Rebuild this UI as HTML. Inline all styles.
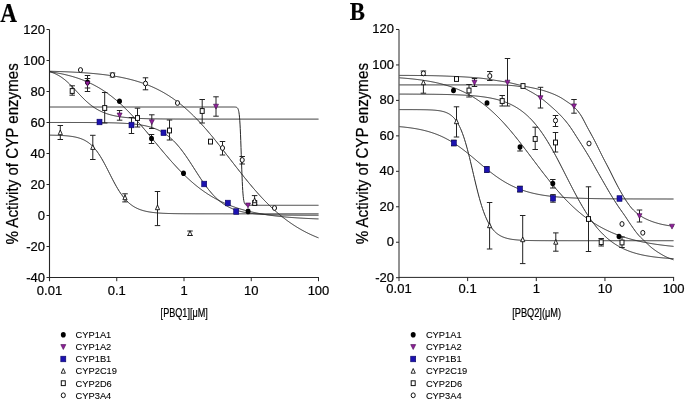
<!DOCTYPE html>
<html><head><meta charset="utf-8"><style>
html,body{margin:0;padding:0;background:#fff;}
body{width:685px;height:401px;overflow:hidden;}
svg{display:block;will-change:transform;}
text{font-family:"Liberation Sans",sans-serif;fill:#000;stroke:#000;stroke-width:0.22px;}
</style></head><body>
<svg width="685" height="401" viewBox="0 0 685 401">

<text transform="translate(0.3,21.7) scale(0.86,1)" style="font-family:'Liberation Serif',serif;font-weight:bold;font-size:27px;fill:#000">A</text>
<text transform="translate(349.8,19.6) scale(0.9,1)" style="font-family:'Liberation Serif',serif;font-weight:bold;font-size:25.3px;fill:#000">B</text>
<line x1="49.5" y1="29.5" x2="49.5" y2="281.2" stroke="#262626" stroke-width="1.1"/>
<line x1="49.5" y1="277.5" x2="319.0" y2="277.5" stroke="#262626" stroke-width="1"/>
<line x1="46.5" y1="29.5" x2="49.5" y2="29.5" stroke="#262626" stroke-width="1"/>
<text x="45.0" y="33.50" text-anchor="end" font-size="13">120</text>
<line x1="46.5" y1="60.5" x2="49.5" y2="60.5" stroke="#262626" stroke-width="1"/>
<text x="45.0" y="64.50" text-anchor="end" font-size="13">100</text>
<line x1="46.5" y1="91.5" x2="49.5" y2="91.5" stroke="#262626" stroke-width="1"/>
<text x="45.0" y="95.50" text-anchor="end" font-size="13">80</text>
<line x1="46.5" y1="122.5" x2="49.5" y2="122.5" stroke="#262626" stroke-width="1"/>
<text x="45.0" y="126.50" text-anchor="end" font-size="13">60</text>
<line x1="46.5" y1="153.5" x2="49.5" y2="153.5" stroke="#262626" stroke-width="1"/>
<text x="45.0" y="157.50" text-anchor="end" font-size="13">40</text>
<line x1="46.5" y1="184.5" x2="49.5" y2="184.5" stroke="#262626" stroke-width="1"/>
<text x="45.0" y="188.50" text-anchor="end" font-size="13">20</text>
<line x1="46.5" y1="215.5" x2="49.5" y2="215.5" stroke="#262626" stroke-width="1"/>
<text x="45.0" y="219.50" text-anchor="end" font-size="13">0</text>
<line x1="46.5" y1="246.5" x2="49.5" y2="246.5" stroke="#262626" stroke-width="1"/>
<text x="45.0" y="250.50" text-anchor="end" font-size="13">-20</text>
<line x1="46.5" y1="277.5" x2="49.5" y2="277.5" stroke="#262626" stroke-width="1"/>
<text x="45.0" y="281.50" text-anchor="end" font-size="13">-40</text>
<text x="49.50" y="294.7" text-anchor="middle" font-size="13">0.01</text>
<line x1="116.75" y1="277.5" x2="116.75" y2="281.2" stroke="#262626" stroke-width="1"/>
<text x="116.75" y="294.7" text-anchor="middle" font-size="13">0.1</text>
<line x1="184.00" y1="277.5" x2="184.00" y2="281.2" stroke="#262626" stroke-width="1"/>
<text x="184.00" y="294.7" text-anchor="middle" font-size="13">1</text>
<line x1="251.25" y1="277.5" x2="251.25" y2="281.2" stroke="#262626" stroke-width="1"/>
<text x="251.25" y="294.7" text-anchor="middle" font-size="13">10</text>
<line x1="318.50" y1="277.5" x2="318.50" y2="281.2" stroke="#262626" stroke-width="1"/>
<text x="318.50" y="294.7" text-anchor="middle" font-size="13">100</text>
<line x1="399" y1="29.5" x2="399" y2="281.09999999999997" stroke="#262626" stroke-width="1"/>
<line x1="399" y1="277.4" x2="674.1" y2="277.4" stroke="#262626" stroke-width="1"/>
<line x1="396" y1="29.47999999999999" x2="399" y2="29.47999999999999" stroke="#262626" stroke-width="1"/>
<text x="394.0" y="33.48" text-anchor="end" font-size="13">120</text>
<line x1="396" y1="64.94" x2="399" y2="64.94" stroke="#262626" stroke-width="1"/>
<text x="394.0" y="68.94" text-anchor="end" font-size="13">100</text>
<line x1="396" y1="100.4" x2="399" y2="100.4" stroke="#262626" stroke-width="1"/>
<text x="394.0" y="104.40" text-anchor="end" font-size="13">80</text>
<line x1="396" y1="135.85999999999999" x2="399" y2="135.85999999999999" stroke="#262626" stroke-width="1"/>
<text x="394.0" y="139.86" text-anchor="end" font-size="13">60</text>
<line x1="396" y1="171.32" x2="399" y2="171.32" stroke="#262626" stroke-width="1"/>
<text x="394.0" y="175.32" text-anchor="end" font-size="13">40</text>
<line x1="396" y1="206.77999999999997" x2="399" y2="206.77999999999997" stroke="#262626" stroke-width="1"/>
<text x="394.0" y="210.78" text-anchor="end" font-size="13">20</text>
<line x1="396" y1="242.23999999999998" x2="399" y2="242.23999999999998" stroke="#262626" stroke-width="1"/>
<text x="394.0" y="246.24" text-anchor="end" font-size="13">0</text>
<line x1="396" y1="277.7" x2="399" y2="277.7" stroke="#262626" stroke-width="1"/>
<text x="394.0" y="281.70" text-anchor="end" font-size="13">-20</text>
<text x="399.00" y="293.3" text-anchor="middle" font-size="13">0.01</text>
<line x1="467.65" y1="277.4" x2="467.65" y2="281.09999999999997" stroke="#262626" stroke-width="1"/>
<text x="467.65" y="293.3" text-anchor="middle" font-size="13">0.1</text>
<line x1="536.30" y1="277.4" x2="536.30" y2="281.09999999999997" stroke="#262626" stroke-width="1"/>
<text x="536.30" y="293.3" text-anchor="middle" font-size="13">1</text>
<line x1="604.95" y1="277.4" x2="604.95" y2="281.09999999999997" stroke="#262626" stroke-width="1"/>
<text x="604.95" y="293.3" text-anchor="middle" font-size="13">10</text>
<line x1="673.60" y1="277.4" x2="673.60" y2="281.09999999999997" stroke="#262626" stroke-width="1"/>
<text x="673.60" y="293.3" text-anchor="middle" font-size="13">100</text>
<text transform="translate(18.3,244.5) rotate(-90) scale(0.964,1)" font-size="15.7">% Activity of CYP enzymes</text>
<text transform="translate(367.9,244.3) rotate(-90) scale(0.964,1)" font-size="15.7">% Activity of CYP enzymes</text>
<text transform="translate(160.6,316.6) scale(0.76,1)" font-size="12">[PBQ1][μM]</text>
<text transform="translate(512.2,316.5) scale(0.77,1)" font-size="12">[PBQ2](μM)</text>
<path d="M49.50,71.25 L50.50,71.28 L51.50,71.30 L52.50,71.33 L53.50,71.36 L54.50,71.39 L55.50,71.42 L56.50,71.45 L57.50,71.48 L58.50,71.51 L59.50,71.55 L60.50,71.58 L61.50,71.62 L62.50,71.65 L63.50,71.69 L64.50,71.73 L65.50,71.77 L66.50,71.81 L67.50,71.85 L68.50,71.90 L69.50,71.94 L70.50,71.99 L71.50,72.04 L72.50,72.09 L73.50,72.14 L74.50,72.19 L75.50,72.24 L76.50,72.30 L77.50,72.36 L78.50,72.41 L79.50,72.47 L80.50,72.54 L81.50,72.60 L82.50,72.67 L83.50,72.73 L84.50,72.80 L85.50,72.88 L86.50,72.95 L87.50,73.03 L88.50,73.10 L89.50,73.18 L90.50,73.27 L91.50,73.35 L92.50,73.44 L93.50,73.53 L94.50,73.62 L95.50,73.72 L96.50,73.82 L97.50,73.92 L98.50,74.02 L99.50,74.13 L100.50,74.24 L101.50,74.35 L102.50,74.47 L103.50,74.59 L104.50,74.71 L105.50,74.84 L106.50,74.97 L107.50,75.10 L108.50,75.24 L109.50,75.38 L110.50,75.53 L111.50,75.68 L112.50,75.83 L113.50,75.99 L114.50,76.15 L115.50,76.32 L116.50,76.49 L117.50,76.67 L118.50,76.85 L119.50,77.04 L120.50,77.23 L121.50,77.42 L122.50,77.63 L123.50,77.83 L124.50,78.05 L125.50,78.27 L126.50,78.49 L127.50,78.73 L128.50,78.96 L129.50,79.21 L130.50,79.46 L131.50,79.72 L132.50,79.98 L133.50,80.25 L134.50,80.53 L135.50,80.82 L136.50,81.11 L137.50,81.41 L138.50,81.72 L139.50,82.04 L140.50,82.36 L141.50,82.70 L142.50,83.04 L143.50,83.39 L144.50,83.75 L145.50,84.12 L146.50,84.50 L147.50,84.89 L148.50,85.29 L149.50,85.69 L150.50,86.11 L151.50,86.54 L152.50,86.98 L153.50,87.42 L154.50,87.88 L155.50,88.35 L156.50,88.84 L157.50,89.33 L158.50,89.83 L159.50,90.35 L160.50,90.88 L161.50,91.42 L162.50,91.97 L163.50,92.53 L164.50,93.11 L165.50,93.70 L166.50,94.30 L167.50,94.92 L168.50,95.54 L169.50,96.19 L170.50,96.84 L171.50,97.51 L172.50,98.19 L173.50,98.89 L174.50,99.60 L175.50,100.32 L176.50,101.06 L177.50,101.81 L178.50,102.58 L179.50,103.36 L180.50,104.15 L181.50,104.96 L182.50,105.79 L183.50,106.63 L184.50,107.48 L185.50,108.35 L186.50,109.23 L187.50,110.12 L188.50,111.04 L189.50,111.96 L190.50,112.90 L191.50,113.85 L192.50,114.82 L193.50,115.80 L194.50,116.80 L195.50,117.81 L196.50,118.83 L197.50,119.87 L198.50,120.92 L199.50,121.98 L200.50,123.06 L201.50,124.15 L202.50,125.25 L203.50,126.36 L204.50,127.49 L205.50,128.62 L206.50,129.77 L207.50,130.93 L208.50,132.10 L209.50,133.28 L210.50,134.47 L211.50,135.67 L212.50,136.88 L213.50,138.09 L214.50,139.32 L215.50,140.55 L216.50,141.79 L217.50,143.04 L218.50,144.29 L219.50,145.55 L220.50,146.82 L221.50,148.09 L222.50,149.36 L223.50,150.64 L224.50,151.92 L225.50,153.21 L226.50,154.49 L227.50,155.78 L228.50,157.07 L229.50,158.37 L230.50,159.66 L231.50,160.95 L232.50,162.24 L233.50,163.53 L234.50,164.82 L235.50,166.11 L236.50,167.39 L237.50,168.67 L238.50,169.95 L239.50,171.22 L240.50,172.49 L241.50,173.76 L242.50,175.01 L243.50,176.27 L244.50,177.51 L245.50,178.75 L246.50,179.98 L247.50,181.20 L248.50,182.42 L249.50,183.63 L250.50,184.82 L251.50,186.01 L252.50,187.19 L253.50,188.36 L254.50,189.52 L255.50,190.67 L256.50,191.81 L257.50,192.93 L258.50,194.05 L259.50,195.15 L260.50,196.24 L261.50,197.32 L262.50,198.39 L263.50,199.45 L264.50,200.49 L265.50,201.52 L266.50,202.54 L267.50,203.54 L268.50,204.53 L269.50,205.51 L270.50,206.48 L271.50,207.43 L272.50,208.36 L273.50,209.29 L274.50,210.20 L275.50,211.10 L276.50,211.98 L277.50,212.85 L278.50,213.71 L279.50,214.55 L280.50,215.38 L281.50,216.20 L282.50,217.00 L283.50,217.79 L284.50,218.57 L285.50,219.33 L286.50,220.08 L287.50,220.82 L288.50,221.54 L289.50,222.25 L290.50,222.95 L291.50,223.64 L292.50,224.31 L293.50,224.97 L294.50,225.62 L295.50,226.26 L296.50,226.88 L297.50,227.49 L298.50,228.09 L299.50,228.68 L300.50,229.26 L301.50,229.82 L302.50,230.38 L303.50,230.92 L304.50,231.45 L305.50,231.98 L306.50,232.49 L307.50,232.99 L308.50,233.48 L309.50,233.96 L310.50,234.43 L311.50,234.89 L312.50,235.34 L313.50,235.78 L314.50,236.21 L315.50,236.63 L316.50,237.05 L317.50,237.45 L318.50,237.85" fill="none" stroke="#262626" stroke-width="1"/>
<path d="M49.50,71.70 L50.50,71.85 L51.50,72.00 L52.50,72.16 L53.50,72.32 L54.50,72.49 L55.50,72.66 L56.50,72.84 L57.50,73.02 L58.50,73.21 L59.50,73.40 L60.50,73.60 L61.50,73.81 L62.50,74.02 L63.50,74.24 L64.50,74.46 L65.50,74.70 L66.50,74.94 L67.50,75.18 L68.50,75.44 L69.50,75.70 L70.50,75.97 L71.50,76.25 L72.50,76.53 L73.50,76.83 L74.50,77.13 L75.50,77.44 L76.50,77.76 L77.50,78.09 L78.50,78.43 L79.50,78.78 L80.50,79.14 L81.50,79.51 L82.50,79.89 L83.50,80.28 L84.50,80.68 L85.50,81.09 L86.50,81.52 L87.50,81.95 L88.50,82.40 L89.50,82.85 L90.50,83.32 L91.50,83.81 L92.50,84.30 L93.50,84.81 L94.50,85.33 L95.50,85.86 L96.50,86.41 L97.50,86.97 L98.50,87.55 L99.50,88.13 L100.50,88.74 L101.50,89.35 L102.50,89.98 L103.50,90.63 L104.50,91.29 L105.50,91.96 L106.50,92.65 L107.50,93.35 L108.50,94.07 L109.50,94.81 L110.50,95.56 L111.50,96.32 L112.50,97.10 L113.50,97.90 L114.50,98.71 L115.50,99.54 L116.50,100.38 L117.50,101.23 L118.50,102.11 L119.50,102.99 L120.50,103.89 L121.50,104.81 L122.50,105.74 L123.50,106.69 L124.50,107.65 L125.50,108.62 L126.50,109.61 L127.50,110.61 L128.50,111.63 L129.50,112.66 L130.50,113.70 L131.50,114.75 L132.50,115.82 L133.50,116.90 L134.50,117.99 L135.50,119.09 L136.50,120.20 L137.50,121.32 L138.50,122.45 L139.50,123.59 L140.50,124.74 L141.50,125.90 L142.50,127.06 L143.50,128.23 L144.50,129.41 L145.50,130.60 L146.50,131.78 L147.50,132.98 L148.50,134.18 L149.50,135.38 L150.50,136.58 L151.50,137.79 L152.50,139.00 L153.50,140.21 L154.50,141.42 L155.50,142.63 L156.50,143.84 L157.50,145.05 L158.50,146.25 L159.50,147.46 L160.50,148.66 L161.50,149.85 L162.50,151.05 L163.50,152.23 L164.50,153.42 L165.50,154.59 L166.50,155.76 L167.50,156.92 L168.50,158.08 L169.50,159.22 L170.50,160.36 L171.50,161.49 L172.50,162.61 L173.50,163.72 L174.50,164.82 L175.50,165.91 L176.50,166.99 L177.50,168.05 L178.50,169.11 L179.50,170.15 L180.50,171.18 L181.50,172.20 L182.50,173.21 L183.50,174.20 L184.50,175.18 L185.50,176.15 L186.50,177.10 L187.50,178.04 L188.50,178.96 L189.50,179.87 L190.50,180.77 L191.50,181.65 L192.50,182.52 L193.50,183.38 L194.50,184.22 L195.50,185.05 L196.50,185.86 L197.50,186.65 L198.50,187.44 L199.50,188.21 L200.50,188.96 L201.50,189.70 L202.50,190.43 L203.50,191.14 L204.50,191.84 L205.50,192.53 L206.50,193.20 L207.50,193.86 L208.50,194.50 L209.50,195.14 L210.50,195.75 L211.50,196.36 L212.50,196.95 L213.50,197.53 L214.50,198.10 L215.50,198.66 L216.50,199.20 L217.50,199.73 L218.50,200.25 L219.50,200.76 L220.50,201.25 L221.50,201.74 L222.50,202.21 L223.50,202.67 L224.50,203.12 L225.50,203.57 L226.50,204.00 L227.50,204.42 L228.50,204.83 L229.50,205.23 L230.50,205.62 L231.50,206.00 L232.50,206.38 L233.50,206.74 L234.50,207.09 L235.50,207.44 L236.50,207.78 L237.50,208.11 L238.50,208.43 L239.50,208.74 L240.50,209.04 L241.50,209.34 L242.50,209.63 L243.50,209.91 L244.50,210.19 L245.50,210.46 L246.50,210.72 L247.50,210.97 L248.50,211.22 L249.50,211.46 L250.50,211.70 L251.50,211.93 L252.50,212.15 L253.50,212.37 L254.50,212.58 L255.50,212.79 L256.50,212.99 L257.50,213.18 L258.50,213.37 L259.50,213.56 L260.50,213.74 L261.50,213.92 L262.50,214.09 L263.50,214.25 L264.50,214.42 L265.50,214.57 L266.50,214.73 L267.50,214.88 L268.50,215.02 L269.50,215.17 L270.50,215.30 L271.50,215.44 L272.50,215.57 L273.50,215.70 L274.50,215.82 L275.50,215.94 L276.50,216.06 L277.50,216.17 L278.50,216.28 L279.50,216.39 L280.50,216.49 L281.50,216.60 L282.50,216.69 L283.50,216.79 L284.50,216.89 L285.50,216.98 L286.50,217.07 L287.50,217.15 L288.50,217.24 L289.50,217.32 L290.50,217.40 L291.50,217.47 L292.50,217.55 L293.50,217.62 L294.50,217.69 L295.50,217.76 L296.50,217.83 L297.50,217.90 L298.50,217.96 L299.50,218.02 L300.50,218.08 L301.50,218.14 L302.50,218.20 L303.50,218.25 L304.50,218.31 L305.50,218.36 L306.50,218.41 L307.50,218.46 L308.50,218.51 L309.50,218.56 L310.50,218.60 L311.50,218.64 L312.50,218.69 L313.50,218.73 L314.50,218.77 L315.50,218.81 L316.50,218.85 L317.50,218.89 L318.50,218.92" fill="none" stroke="#262626" stroke-width="1"/>
<path d="M49.50,71.64 L50.50,71.94 L51.50,72.27 L52.50,72.63 L53.50,73.01 L54.50,73.42 L55.50,73.87 L56.50,74.35 L57.50,74.86 L58.50,75.42 L59.50,76.00 L60.50,76.63 L61.50,77.30 L62.50,78.00 L63.50,78.75 L64.50,79.53 L65.50,80.35 L66.50,81.21 L67.50,82.10 L68.50,83.02 L69.50,83.98 L70.50,84.97 L71.50,85.97 L72.50,87.00 L73.50,88.05 L74.50,89.11 L75.50,90.18 L76.50,91.26 L77.50,92.33 L78.50,93.40 L79.50,94.47 L80.50,95.52 L81.50,96.56 L82.50,97.58 L83.50,98.59 L84.50,99.56 L85.50,100.52 L86.50,101.44 L87.50,102.34 L88.50,103.20 L89.50,104.04 L90.50,104.84 L91.50,105.61 L92.50,106.35 L93.50,107.05 L94.50,107.73 L95.50,108.37 L96.50,108.98 L97.50,109.56 L98.50,110.12 L99.50,110.64 L100.50,111.14 L101.50,111.61 L102.50,112.05 L103.50,112.47 L104.50,112.87 L105.50,113.24 L106.50,113.60 L107.50,113.93 L108.50,114.24 L109.50,114.54 L110.50,114.82 L111.50,115.08 L112.50,115.33 L113.50,115.56 L114.50,115.78 L115.50,115.98 L116.50,116.17 L117.50,116.35 L118.50,116.52 L119.50,116.68 L120.50,116.83 L121.50,116.97 L122.50,117.11 L123.50,117.23 L124.50,117.35 L125.50,117.46 L126.50,117.56 L127.50,117.66 L128.50,117.75 L129.50,117.83 L130.50,117.91 L131.50,117.99 L132.50,118.06 L133.50,118.12 L134.50,118.18 L135.50,118.24 L136.50,118.30 L137.50,118.35 L138.50,118.39 L139.50,118.44 L140.50,118.48 L141.50,118.52 L142.50,118.56 L143.50,118.59 L144.50,118.62 L145.50,118.65 L146.50,118.68 L147.50,118.71 L148.50,118.73 L149.50,118.76 L150.50,118.78 L151.50,118.80 L152.50,118.82 L153.50,118.84 L154.50,118.86 L155.50,118.87 L156.50,118.89 L157.50,118.90 L158.50,118.91 L159.50,118.93 L160.50,118.94 L161.50,118.95 L162.50,118.96 L163.50,118.97 L164.50,118.98 L165.50,118.99 L166.50,118.99 L167.50,119.00 L168.50,119.01 L169.50,119.02 L170.50,119.02 L171.50,119.03 L172.50,119.03 L173.50,119.04 L174.50,119.04 L175.50,119.05 L176.50,119.05 L177.50,119.05 L178.50,119.06 L179.50,119.06 L180.50,119.07 L181.50,119.07 L182.50,119.07 L183.50,119.07 L184.50,119.08 L185.50,119.08 L186.50,119.08 L187.50,119.08 L188.50,119.08 L189.50,119.09 L190.50,119.09 L191.50,119.09 L192.50,119.09 L193.50,119.09 L194.50,119.09 L195.50,119.10 L196.50,119.10 L197.50,119.10 L198.50,119.10 L199.50,119.10 L200.50,119.10 L201.50,119.10 L202.50,119.10 L203.50,119.10 L204.50,119.10 L205.50,119.10 L206.50,119.10 L207.50,119.10 L208.50,119.11 L209.50,119.11 L210.50,119.11 L211.50,119.11 L212.50,119.11 L213.50,119.11 L214.50,119.11 L215.50,119.11 L216.50,119.11 L217.50,119.11 L218.50,119.11 L219.50,119.11 L220.50,119.11 L221.50,119.11 L222.50,119.11 L223.50,119.11 L224.50,119.11 L225.50,119.11 L226.50,119.11 L227.50,119.11 L228.50,119.11 L229.50,119.11 L230.50,119.11 L231.50,119.11 L232.50,119.11 L233.50,119.11 L234.50,119.11 L235.50,119.11 L236.50,119.11 L237.50,119.11 L238.50,119.11 L239.50,119.11 L240.50,119.11 L241.50,119.11 L242.50,119.11 L243.50,119.11 L244.50,119.11 L245.50,119.11 L246.50,119.11 L247.50,119.11 L248.50,119.11 L249.50,119.11 L250.50,119.11 L251.50,119.11 L252.50,119.11 L253.50,119.11 L254.50,119.11 L255.50,119.11 L256.50,119.11 L257.50,119.11 L258.50,119.11 L259.50,119.11 L260.50,119.11 L261.50,119.11 L262.50,119.11 L263.50,119.11 L264.50,119.11 L265.50,119.11 L266.50,119.11 L267.50,119.11 L268.50,119.11 L269.50,119.11 L270.50,119.11 L271.50,119.11 L272.50,119.11 L273.50,119.11 L274.50,119.11 L275.50,119.11 L276.50,119.11 L277.50,119.11 L278.50,119.11 L279.50,119.11 L280.50,119.11 L281.50,119.11 L282.50,119.11 L283.50,119.11 L284.50,119.11 L285.50,119.11 L286.50,119.11 L287.50,119.11 L288.50,119.11 L289.50,119.11 L290.50,119.11 L291.50,119.11 L292.50,119.11 L293.50,119.11 L294.50,119.11 L295.50,119.11 L296.50,119.11 L297.50,119.11 L298.50,119.11 L299.50,119.11 L300.50,119.11 L301.50,119.11 L302.50,119.11 L303.50,119.11 L304.50,119.11 L305.50,119.11 L306.50,119.11 L307.50,119.11 L308.50,119.11 L309.50,119.11 L310.50,119.11 L311.50,119.11 L312.50,119.11 L313.50,119.11 L314.50,119.11 L315.50,119.11 L316.50,119.11 L317.50,119.11 L318.50,119.11" fill="none" stroke="#262626" stroke-width="1"/>
<path d="M49.50,122.47 L50.50,122.47 L51.50,122.47 L52.50,122.47 L53.50,122.47 L54.50,122.47 L55.50,122.47 L56.50,122.47 L57.50,122.47 L58.50,122.47 L59.50,122.47 L60.50,122.47 L61.50,122.47 L62.50,122.47 L63.50,122.48 L64.50,122.48 L65.50,122.48 L66.50,122.48 L67.50,122.48 L68.50,122.48 L69.50,122.48 L70.50,122.48 L71.50,122.49 L72.50,122.49 L73.50,122.49 L74.50,122.49 L75.50,122.49 L76.50,122.50 L77.50,122.50 L78.50,122.50 L79.50,122.50 L80.50,122.51 L81.50,122.51 L82.50,122.51 L83.50,122.52 L84.50,122.52 L85.50,122.52 L86.50,122.53 L87.50,122.53 L88.50,122.54 L89.50,122.54 L90.50,122.55 L91.50,122.56 L92.50,122.56 L93.50,122.57 L94.50,122.58 L95.50,122.59 L96.50,122.59 L97.50,122.60 L98.50,122.61 L99.50,122.62 L100.50,122.63 L101.50,122.65 L102.50,122.66 L103.50,122.67 L104.50,122.69 L105.50,122.70 L106.50,122.72 L107.50,122.74 L108.50,122.76 L109.50,122.78 L110.50,122.80 L111.50,122.82 L112.50,122.85 L113.50,122.87 L114.50,122.90 L115.50,122.93 L116.50,122.96 L117.50,123.00 L118.50,123.04 L119.50,123.08 L120.50,123.12 L121.50,123.16 L122.50,123.21 L123.50,123.26 L124.50,123.32 L125.50,123.37 L126.50,123.44 L127.50,123.50 L128.50,123.58 L129.50,123.65 L130.50,123.73 L131.50,123.82 L132.50,123.91 L133.50,124.01 L134.50,124.11 L135.50,124.23 L136.50,124.35 L137.50,124.47 L138.50,124.61 L139.50,124.75 L140.50,124.91 L141.50,125.07 L142.50,125.25 L143.50,125.43 L144.50,125.63 L145.50,125.84 L146.50,126.07 L147.50,126.31 L148.50,126.56 L149.50,126.83 L150.50,127.12 L151.50,127.42 L152.50,127.75 L153.50,128.09 L154.50,128.46 L155.50,128.84 L156.50,129.25 L157.50,129.68 L158.50,130.14 L159.50,130.63 L160.50,131.14 L161.50,131.68 L162.50,132.25 L163.50,132.85 L164.50,133.49 L165.50,134.15 L166.50,134.85 L167.50,135.59 L168.50,136.36 L169.50,137.17 L170.50,138.02 L171.50,138.91 L172.50,139.83 L173.50,140.80 L174.50,141.80 L175.50,142.85 L176.50,143.94 L177.50,145.06 L178.50,146.23 L179.50,147.43 L180.50,148.68 L181.50,149.96 L182.50,151.27 L183.50,152.63 L184.50,154.01 L185.50,155.42 L186.50,156.86 L187.50,158.33 L188.50,159.82 L189.50,161.33 L190.50,162.86 L191.50,164.40 L192.50,165.95 L193.50,167.51 L194.50,169.07 L195.50,170.64 L196.50,172.19 L197.50,173.75 L198.50,175.29 L199.50,176.82 L200.50,178.33 L201.50,179.82 L202.50,181.29 L203.50,182.73 L204.50,184.14 L205.50,185.53 L206.50,186.88 L207.50,188.19 L208.50,189.47 L209.50,190.72 L210.50,191.92 L211.50,193.08 L212.50,194.21 L213.50,195.29 L214.50,196.34 L215.50,197.34 L216.50,198.30 L217.50,199.22 L218.50,200.11 L219.50,200.95 L220.50,201.75 L221.50,202.52 L222.50,203.25 L223.50,203.94 L224.50,204.60 L225.50,205.23 L226.50,205.82 L227.50,206.39 L228.50,206.92 L229.50,207.42 L230.50,207.90 L231.50,208.35 L232.50,208.77 L233.50,209.17 L234.50,209.55 L235.50,209.91 L236.50,210.24 L237.50,210.56 L238.50,210.85 L239.50,211.13 L240.50,211.39 L241.50,211.64 L242.50,211.87 L243.50,212.08 L244.50,212.29 L245.50,212.48 L246.50,212.66 L247.50,212.83 L248.50,212.98 L249.50,213.13 L250.50,213.27 L251.50,213.40 L252.50,213.52 L253.50,213.63 L254.50,213.74 L255.50,213.84 L256.50,213.93 L257.50,214.02 L258.50,214.10 L259.50,214.17 L260.50,214.24 L261.50,214.31 L262.50,214.37 L263.50,214.43 L264.50,214.49 L265.50,214.54 L266.50,214.58 L267.50,214.63 L268.50,214.67 L269.50,214.71 L270.50,214.74 L271.50,214.78 L272.50,214.81 L273.50,214.84 L274.50,214.87 L275.50,214.89 L276.50,214.92 L277.50,214.94 L278.50,214.96 L279.50,214.98 L280.50,215.00 L281.50,215.02 L282.50,215.03 L283.50,215.05 L284.50,215.06 L285.50,215.07 L286.50,215.09 L287.50,215.10 L288.50,215.11 L289.50,215.12 L290.50,215.13 L291.50,215.14 L292.50,215.14 L293.50,215.15 L294.50,215.16 L295.50,215.16 L296.50,215.17 L297.50,215.18 L298.50,215.18 L299.50,215.19 L300.50,215.19 L301.50,215.20 L302.50,215.20 L303.50,215.20 L304.50,215.21 L305.50,215.21 L306.50,215.21 L307.50,215.22 L308.50,215.22 L309.50,215.22 L310.50,215.22 L311.50,215.23 L312.50,215.23 L313.50,215.23 L314.50,215.23 L315.50,215.23 L316.50,215.24 L317.50,215.24 L318.50,215.24" fill="none" stroke="#262626" stroke-width="1"/>
<path d="M49.50,135.13 L50.50,135.15 L51.50,135.17 L52.50,135.19 L53.50,135.21 L54.50,135.23 L55.50,135.26 L56.50,135.29 L57.50,135.32 L58.50,135.35 L59.50,135.39 L60.50,135.44 L61.50,135.48 L62.50,135.54 L63.50,135.60 L64.50,135.67 L65.50,135.74 L66.50,135.82 L67.50,135.91 L68.50,136.01 L69.50,136.13 L70.50,136.25 L71.50,136.39 L72.50,136.54 L73.50,136.71 L74.50,136.90 L75.50,137.10 L76.50,137.33 L77.50,137.58 L78.50,137.86 L79.50,138.17 L80.50,138.51 L81.50,138.88 L82.50,139.29 L83.50,139.73 L84.50,140.23 L85.50,140.77 L86.50,141.36 L87.50,142.00 L88.50,142.70 L89.50,143.46 L90.50,144.29 L91.50,145.19 L92.50,146.15 L93.50,147.19 L94.50,148.31 L95.50,149.51 L96.50,150.78 L97.50,152.13 L98.50,153.57 L99.50,155.08 L100.50,156.66 L101.50,158.32 L102.50,160.05 L103.50,161.83 L104.50,163.67 L105.50,165.56 L106.50,167.48 L107.50,169.43 L108.50,171.41 L109.50,173.39 L110.50,175.36 L111.50,177.33 L112.50,179.28 L113.50,181.19 L114.50,183.07 L115.50,184.89 L116.50,186.67 L117.50,188.38 L118.50,190.03 L119.50,191.62 L120.50,193.13 L121.50,194.56 L122.50,195.93 L123.50,197.22 L124.50,198.44 L125.50,199.58 L126.50,200.65 L127.50,201.66 L128.50,202.60 L129.50,203.47 L130.50,204.29 L131.50,205.04 L132.50,205.75 L133.50,206.40 L134.50,207.00 L135.50,207.55 L136.50,208.07 L137.50,208.54 L138.50,208.98 L139.50,209.38 L140.50,209.75 L141.50,210.09 L142.50,210.40 L143.50,210.69 L144.50,210.95 L145.50,211.19 L146.50,211.42 L147.50,211.62 L148.50,211.81 L149.50,211.98 L150.50,212.13 L151.50,212.28 L152.50,212.41 L153.50,212.53 L154.50,212.64 L155.50,212.74 L156.50,212.83 L157.50,212.92 L158.50,213.00 L159.50,213.07 L160.50,213.13 L161.50,213.19 L162.50,213.25 L163.50,213.30 L164.50,213.34 L165.50,213.38 L166.50,213.42 L167.50,213.46 L168.50,213.49 L169.50,213.52 L170.50,213.54 L171.50,213.57 L172.50,213.59 L173.50,213.61 L174.50,213.63 L175.50,213.65 L176.50,213.66 L177.50,213.68 L178.50,213.69 L179.50,213.70 L180.50,213.71 L181.50,213.72 L182.50,213.73 L183.50,213.74 L184.50,213.75 L185.50,213.75 L186.50,213.76 L187.50,213.77 L188.50,213.77 L189.50,213.78 L190.50,213.78 L191.50,213.78 L192.50,213.79 L193.50,213.79 L194.50,213.79 L195.50,213.80 L196.50,213.80 L197.50,213.80 L198.50,213.80 L199.50,213.81 L200.50,213.81 L201.50,213.81 L202.50,213.81 L203.50,213.81 L204.50,213.81 L205.50,213.82 L206.50,213.82 L207.50,213.82 L208.50,213.82 L209.50,213.82 L210.50,213.82 L211.50,213.82 L212.50,213.82 L213.50,213.82 L214.50,213.82 L215.50,213.82 L216.50,213.82 L217.50,213.82 L218.50,213.82 L219.50,213.82 L220.50,213.82 L221.50,213.82 L222.50,213.82 L223.50,213.83 L224.50,213.83 L225.50,213.83 L226.50,213.83 L227.50,213.83 L228.50,213.83 L229.50,213.83 L230.50,213.83 L231.50,213.83 L232.50,213.83 L233.50,213.83 L234.50,213.83 L235.50,213.83 L236.50,213.83 L237.50,213.83 L238.50,213.83 L239.50,213.83 L240.50,213.83 L241.50,213.83 L242.50,213.83 L243.50,213.83 L244.50,213.83 L245.50,213.83 L246.50,213.83 L247.50,213.83 L248.50,213.83 L249.50,213.83 L250.50,213.83 L251.50,213.83 L252.50,213.83 L253.50,213.83 L254.50,213.83 L255.50,213.83 L256.50,213.83 L257.50,213.83 L258.50,213.83 L259.50,213.83 L260.50,213.83 L261.50,213.83 L262.50,213.83 L263.50,213.83 L264.50,213.83 L265.50,213.83 L266.50,213.83 L267.50,213.83 L268.50,213.83 L269.50,213.83 L270.50,213.83 L271.50,213.83 L272.50,213.83 L273.50,213.83 L274.50,213.83 L275.50,213.83 L276.50,213.83 L277.50,213.83 L278.50,213.83 L279.50,213.83 L280.50,213.83 L281.50,213.83 L282.50,213.83 L283.50,213.83 L284.50,213.83 L285.50,213.83 L286.50,213.83 L287.50,213.83 L288.50,213.83 L289.50,213.83 L290.50,213.83 L291.50,213.83 L292.50,213.83 L293.50,213.83 L294.50,213.83 L295.50,213.83 L296.50,213.83 L297.50,213.83 L298.50,213.83 L299.50,213.83 L300.50,213.83 L301.50,213.83 L302.50,213.83 L303.50,213.83 L304.50,213.83 L305.50,213.83 L306.50,213.83 L307.50,213.83 L308.50,213.83 L309.50,213.83 L310.50,213.83 L311.50,213.83 L312.50,213.83 L313.50,213.83 L314.50,213.83 L315.50,213.83 L316.50,213.83 L317.50,213.83 L318.50,213.83" fill="none" stroke="#262626" stroke-width="1"/>
<path d="M49.50,107.00 L49.75,107.00 L50.00,107.00 L50.25,107.00 L50.50,107.00 L50.75,107.00 L51.00,107.00 L51.25,107.00 L51.50,107.00 L51.75,107.00 L52.00,107.00 L52.25,107.00 L52.50,107.00 L52.75,107.00 L53.00,107.00 L53.25,107.00 L53.50,107.00 L53.75,107.00 L54.00,107.00 L54.25,107.00 L54.50,107.00 L54.75,107.00 L55.00,107.00 L55.25,107.00 L55.50,107.00 L55.75,107.00 L56.00,107.00 L56.25,107.00 L56.50,107.00 L56.75,107.00 L57.00,107.00 L57.25,107.00 L57.50,107.00 L57.75,107.00 L58.00,107.00 L58.25,107.00 L58.50,107.00 L58.75,107.00 L59.00,107.00 L59.25,107.00 L59.50,107.00 L59.75,107.00 L60.00,107.00 L60.25,107.00 L60.50,107.00 L60.75,107.00 L61.00,107.00 L61.25,107.00 L61.50,107.00 L61.75,107.00 L62.00,107.00 L62.25,107.00 L62.50,107.00 L62.75,107.00 L63.00,107.00 L63.25,107.00 L63.50,107.00 L63.75,107.00 L64.00,107.00 L64.25,107.00 L64.50,107.00 L64.75,107.00 L65.00,107.00 L65.25,107.00 L65.50,107.00 L65.75,107.00 L66.00,107.00 L66.25,107.00 L66.50,107.00 L66.75,107.00 L67.00,107.00 L67.25,107.00 L67.50,107.00 L67.75,107.00 L68.00,107.00 L68.25,107.00 L68.50,107.00 L68.75,107.00 L69.00,107.00 L69.25,107.00 L69.50,107.00 L69.75,107.00 L70.00,107.00 L70.25,107.00 L70.50,107.00 L70.75,107.00 L71.00,107.00 L71.25,107.00 L71.50,107.00 L71.75,107.00 L72.00,107.00 L72.25,107.00 L72.50,107.00 L72.75,107.00 L73.00,107.00 L73.25,107.00 L73.50,107.00 L73.75,107.00 L74.00,107.00 L74.25,107.00 L74.50,107.00 L74.75,107.00 L75.00,107.00 L75.25,107.00 L75.50,107.00 L75.75,107.00 L76.00,107.00 L76.25,107.00 L76.50,107.00 L76.75,107.00 L77.00,107.00 L77.25,107.00 L77.50,107.00 L77.75,107.00 L78.00,107.00 L78.25,107.00 L78.50,107.00 L78.75,107.00 L79.00,107.00 L79.25,107.00 L79.50,107.00 L79.75,107.00 L80.00,107.00 L80.25,107.00 L80.50,107.00 L80.75,107.00 L81.00,107.00 L81.25,107.00 L81.50,107.00 L81.75,107.00 L82.00,107.00 L82.25,107.00 L82.50,107.00 L82.75,107.00 L83.00,107.00 L83.25,107.00 L83.50,107.00 L83.75,107.00 L84.00,107.00 L84.25,107.00 L84.50,107.00 L84.75,107.00 L85.00,107.00 L85.25,107.00 L85.50,107.00 L85.75,107.00 L86.00,107.00 L86.25,107.00 L86.50,107.00 L86.75,107.00 L87.00,107.00 L87.25,107.00 L87.50,107.00 L87.75,107.00 L88.00,107.00 L88.25,107.00 L88.50,107.00 L88.75,107.00 L89.00,107.00 L89.25,107.00 L89.50,107.00 L89.75,107.00 L90.00,107.00 L90.25,107.00 L90.50,107.00 L90.75,107.00 L91.00,107.00 L91.25,107.00 L91.50,107.00 L91.75,107.00 L92.00,107.00 L92.25,107.00 L92.50,107.00 L92.75,107.00 L93.00,107.00 L93.25,107.00 L93.50,107.00 L93.75,107.00 L94.00,107.00 L94.25,107.00 L94.50,107.00 L94.75,107.00 L95.00,107.00 L95.25,107.00 L95.50,107.00 L95.75,107.00 L96.00,107.00 L96.25,107.00 L96.50,107.00 L96.75,107.00 L97.00,107.00 L97.25,107.00 L97.50,107.00 L97.75,107.00 L98.00,107.00 L98.25,107.00 L98.50,107.00 L98.75,107.00 L99.00,107.00 L99.25,107.00 L99.50,107.00 L99.75,107.00 L100.00,107.00 L100.25,107.00 L100.50,107.00 L100.75,107.00 L101.00,107.00 L101.25,107.00 L101.50,107.00 L101.75,107.00 L102.00,107.00 L102.25,107.00 L102.50,107.00 L102.75,107.00 L103.00,107.00 L103.25,107.00 L103.50,107.00 L103.75,107.00 L104.00,107.00 L104.25,107.00 L104.50,107.00 L104.75,107.00 L105.00,107.00 L105.25,107.00 L105.50,107.00 L105.75,107.00 L106.00,107.00 L106.25,107.00 L106.50,107.00 L106.75,107.00 L107.00,107.00 L107.25,107.00 L107.50,107.00 L107.75,107.00 L108.00,107.00 L108.25,107.00 L108.50,107.00 L108.75,107.00 L109.00,107.00 L109.25,107.00 L109.50,107.00 L109.75,107.00 L110.00,107.00 L110.25,107.00 L110.50,107.00 L110.75,107.00 L111.00,107.00 L111.25,107.00 L111.50,107.00 L111.75,107.00 L112.00,107.00 L112.25,107.00 L112.50,107.00 L112.75,107.00 L113.00,107.00 L113.25,107.00 L113.50,107.00 L113.75,107.00 L114.00,107.00 L114.25,107.00 L114.50,107.00 L114.75,107.00 L115.00,107.00 L115.25,107.00 L115.50,107.00 L115.75,107.00 L116.00,107.00 L116.25,107.00 L116.50,107.00 L116.75,107.00 L117.00,107.00 L117.25,107.00 L117.50,107.00 L117.75,107.00 L118.00,107.00 L118.25,107.00 L118.50,107.00 L118.75,107.00 L119.00,107.00 L119.25,107.00 L119.50,107.00 L119.75,107.00 L120.00,107.00 L120.25,107.00 L120.50,107.00 L120.75,107.00 L121.00,107.00 L121.25,107.00 L121.50,107.00 L121.75,107.00 L122.00,107.00 L122.25,107.00 L122.50,107.00 L122.75,107.00 L123.00,107.00 L123.25,107.00 L123.50,107.00 L123.75,107.00 L124.00,107.00 L124.25,107.00 L124.50,107.00 L124.75,107.00 L125.00,107.00 L125.25,107.00 L125.50,107.00 L125.75,107.00 L126.00,107.00 L126.25,107.00 L126.50,107.00 L126.75,107.00 L127.00,107.00 L127.25,107.00 L127.50,107.00 L127.75,107.00 L128.00,107.00 L128.25,107.00 L128.50,107.00 L128.75,107.00 L129.00,107.00 L129.25,107.00 L129.50,107.00 L129.75,107.00 L130.00,107.00 L130.25,107.00 L130.50,107.00 L130.75,107.00 L131.00,107.00 L131.25,107.00 L131.50,107.00 L131.75,107.00 L132.00,107.00 L132.25,107.00 L132.50,107.00 L132.75,107.00 L133.00,107.00 L133.25,107.00 L133.50,107.00 L133.75,107.00 L134.00,107.00 L134.25,107.00 L134.50,107.00 L134.75,107.00 L135.00,107.00 L135.25,107.00 L135.50,107.00 L135.75,107.00 L136.00,107.00 L136.25,107.00 L136.50,107.00 L136.75,107.00 L137.00,107.00 L137.25,107.00 L137.50,107.00 L137.75,107.00 L138.00,107.00 L138.25,107.00 L138.50,107.00 L138.75,107.00 L139.00,107.00 L139.25,107.00 L139.50,107.00 L139.75,107.00 L140.00,107.00 L140.25,107.00 L140.50,107.00 L140.75,107.00 L141.00,107.00 L141.25,107.00 L141.50,107.00 L141.75,107.00 L142.00,107.00 L142.25,107.00 L142.50,107.00 L142.75,107.00 L143.00,107.00 L143.25,107.00 L143.50,107.00 L143.75,107.00 L144.00,107.00 L144.25,107.00 L144.50,107.00 L144.75,107.00 L145.00,107.00 L145.25,107.00 L145.50,107.00 L145.75,107.00 L146.00,107.00 L146.25,107.00 L146.50,107.00 L146.75,107.00 L147.00,107.00 L147.25,107.00 L147.50,107.00 L147.75,107.00 L148.00,107.00 L148.25,107.00 L148.50,107.00 L148.75,107.00 L149.00,107.00 L149.25,107.00 L149.50,107.00 L149.75,107.00 L150.00,107.00 L150.25,107.00 L150.50,107.00 L150.75,107.00 L151.00,107.00 L151.25,107.00 L151.50,107.00 L151.75,107.00 L152.00,107.00 L152.25,107.00 L152.50,107.00 L152.75,107.00 L153.00,107.00 L153.25,107.00 L153.50,107.00 L153.75,107.00 L154.00,107.00 L154.25,107.00 L154.50,107.00 L154.75,107.00 L155.00,107.00 L155.25,107.00 L155.50,107.00 L155.75,107.00 L156.00,107.00 L156.25,107.00 L156.50,107.00 L156.75,107.00 L157.00,107.00 L157.25,107.00 L157.50,107.00 L157.75,107.00 L158.00,107.00 L158.25,107.00 L158.50,107.00 L158.75,107.00 L159.00,107.00 L159.25,107.00 L159.50,107.00 L159.75,107.00 L160.00,107.00 L160.25,107.00 L160.50,107.00 L160.75,107.00 L161.00,107.00 L161.25,107.00 L161.50,107.00 L161.75,107.00 L162.00,107.00 L162.25,107.00 L162.50,107.00 L162.75,107.00 L163.00,107.00 L163.25,107.00 L163.50,107.00 L163.75,107.00 L164.00,107.00 L164.25,107.00 L164.50,107.00 L164.75,107.00 L165.00,107.00 L165.25,107.00 L165.50,107.00 L165.75,107.00 L166.00,107.00 L166.25,107.00 L166.50,107.00 L166.75,107.00 L167.00,107.00 L167.25,107.00 L167.50,107.00 L167.75,107.00 L168.00,107.00 L168.25,107.00 L168.50,107.00 L168.75,107.00 L169.00,107.00 L169.25,107.00 L169.50,107.00 L169.75,107.00 L170.00,107.00 L170.25,107.00 L170.50,107.00 L170.75,107.00 L171.00,107.00 L171.25,107.00 L171.50,107.00 L171.75,107.00 L172.00,107.00 L172.25,107.00 L172.50,107.00 L172.75,107.00 L173.00,107.00 L173.25,107.00 L173.50,107.00 L173.75,107.00 L174.00,107.00 L174.25,107.00 L174.50,107.00 L174.75,107.00 L175.00,107.00 L175.25,107.00 L175.50,107.00 L175.75,107.00 L176.00,107.00 L176.25,107.00 L176.50,107.00 L176.75,107.00 L177.00,107.00 L177.25,107.00 L177.50,107.00 L177.75,107.00 L178.00,107.00 L178.25,107.00 L178.50,107.00 L178.75,107.00 L179.00,107.00 L179.25,107.00 L179.50,107.00 L179.75,107.00 L180.00,107.00 L180.25,107.00 L180.50,107.00 L180.75,107.00 L181.00,107.00 L181.25,107.00 L181.50,107.00 L181.75,107.00 L182.00,107.00 L182.25,107.00 L182.50,107.00 L182.75,107.00 L183.00,107.00 L183.25,107.00 L183.50,107.00 L183.75,107.00 L184.00,107.00 L184.25,107.00 L184.50,107.00 L184.75,107.00 L185.00,107.00 L185.25,107.00 L185.50,107.00 L185.75,107.00 L186.00,107.00 L186.25,107.00 L186.50,107.00 L186.75,107.00 L187.00,107.00 L187.25,107.00 L187.50,107.00 L187.75,107.00 L188.00,107.00 L188.25,107.00 L188.50,107.00 L188.75,107.00 L189.00,107.00 L189.25,107.00 L189.50,107.00 L189.75,107.00 L190.00,107.00 L190.25,107.00 L190.50,107.00 L190.75,107.00 L191.00,107.00 L191.25,107.00 L191.50,107.00 L191.75,107.00 L192.00,107.00 L192.25,107.00 L192.50,107.00 L192.75,107.00 L193.00,107.00 L193.25,107.00 L193.50,107.00 L193.75,107.00 L194.00,107.00 L194.25,107.00 L194.50,107.00 L194.75,107.00 L195.00,107.00 L195.25,107.00 L195.50,107.00 L195.75,107.00 L196.00,107.00 L196.25,107.00 L196.50,107.00 L196.75,107.00 L197.00,107.00 L197.25,107.00 L197.50,107.00 L197.75,107.00 L198.00,107.00 L198.25,107.00 L198.50,107.00 L198.75,107.00 L199.00,107.00 L199.25,107.00 L199.50,107.00 L199.75,107.00 L200.00,107.00 L200.25,107.00 L200.50,107.00 L200.75,107.00 L201.00,107.00 L201.25,107.00 L201.50,107.00 L201.75,107.00 L202.00,107.00 L202.25,107.00 L202.50,107.00 L202.75,107.00 L203.00,107.00 L203.25,107.00 L203.50,107.00 L203.75,107.00 L204.00,107.00 L204.25,107.00 L204.50,107.00 L204.75,107.00 L205.00,107.00 L205.25,107.00 L205.50,107.00 L205.75,107.00 L206.00,107.00 L206.25,107.00 L206.50,107.00 L206.75,107.00 L207.00,107.00 L207.25,107.00 L207.50,107.00 L207.75,107.00 L208.00,107.00 L208.25,107.00 L208.50,107.00 L208.75,107.00 L209.00,107.00 L209.25,107.00 L209.50,107.00 L209.75,107.00 L210.00,107.00 L210.25,107.00 L210.50,107.00 L210.75,107.00 L211.00,107.00 L211.25,107.00 L211.50,107.00 L211.75,107.00 L212.00,107.00 L212.25,107.00 L212.50,107.00 L212.75,107.00 L213.00,107.00 L213.25,107.00 L213.50,107.00 L213.75,107.00 L214.00,107.00 L214.25,107.00 L214.50,107.00 L214.75,107.00 L215.00,107.00 L215.25,107.00 L215.50,107.00 L215.75,107.00 L216.00,107.00 L216.25,107.00 L216.50,107.00 L216.75,107.00 L217.00,107.00 L217.25,107.00 L217.50,107.00 L217.75,107.00 L218.00,107.00 L218.25,107.00 L218.50,107.00 L218.75,107.00 L219.00,107.00 L219.25,107.00 L219.50,107.00 L219.75,107.00 L220.00,107.00 L220.25,107.00 L220.50,107.00 L220.75,107.00 L221.00,107.00 L221.25,107.00 L221.50,107.00 L221.75,107.00 L222.00,107.00 L222.25,107.00 L222.50,107.00 L222.75,107.00 L223.00,107.00 L223.25,107.00 L223.50,107.00 L223.75,107.00 L224.00,107.00 L224.25,107.00 L224.50,107.00 L224.75,107.00 L225.00,107.00 L225.25,107.00 L225.50,107.00 L225.75,107.00 L226.00,107.00 L226.25,107.00 L226.50,107.00 L226.75,107.00 L227.00,107.00 L227.25,107.00 L227.50,107.00 L227.75,107.00 L228.00,107.00 L228.25,107.00 L228.50,107.00 L228.75,107.00 L229.00,107.00 L229.25,107.00 L229.50,107.00 L229.75,107.00 L230.00,107.00 L230.25,107.00 L230.50,107.00 L230.75,107.00 L231.00,107.00 L231.25,107.00 L231.50,107.00 L231.75,107.00 L232.00,107.00 L232.25,107.00 L232.50,107.00 L232.75,107.00 L233.00,107.00 L233.25,107.01 L233.50,107.01 L233.75,107.01 L234.00,107.02 L234.25,107.02 L234.50,107.03 L234.75,107.04 L235.00,107.05 L235.25,107.07 L235.50,107.09 L235.75,107.13 L236.00,107.17 L236.25,107.23 L236.50,107.31 L236.75,107.42 L237.00,107.56 L237.25,107.76 L237.50,108.02 L237.75,108.37 L238.00,108.84 L238.25,109.47 L238.50,110.30 L238.75,111.40 L239.00,112.85 L239.25,114.74 L239.50,117.16 L239.75,120.24 L240.00,124.07 L240.25,128.72 L240.50,134.22 L240.75,140.49 L241.00,147.40 L241.25,154.68 L241.50,162.02 L241.75,169.11 L242.00,175.66 L242.25,181.48 L242.50,186.47 L242.75,190.62 L243.00,193.99 L243.25,196.66 L243.50,198.75 L243.75,200.36 L244.00,201.60 L244.25,202.53 L244.50,203.23 L244.75,203.76 L245.00,204.15 L245.25,204.45 L245.50,204.67 L245.75,204.83 L246.00,204.95 L246.25,205.04 L246.50,205.11 L246.75,205.16 L247.00,205.19 L247.25,205.22 L247.50,205.24 L247.75,205.26 L248.00,205.27 L248.25,205.28 L248.50,205.28 L248.75,205.29 L249.00,205.29 L249.25,205.29 L249.50,205.29 L249.75,205.30 L250.00,205.30 L250.25,205.30 L250.50,205.30 L250.75,205.30 L251.00,205.30 L251.25,205.30 L251.50,205.30 L251.75,205.30 L252.00,205.30 L252.25,205.30 L252.50,205.30 L252.75,205.30 L253.00,205.30 L253.25,205.30 L253.50,205.30 L253.75,205.30 L254.00,205.30 L254.25,205.30 L254.50,205.30 L254.75,205.30 L255.00,205.30 L255.25,205.30 L255.50,205.30 L255.75,205.30 L256.00,205.30 L256.25,205.30 L256.50,205.30 L256.75,205.30 L257.00,205.30 L257.25,205.30 L257.50,205.30 L257.75,205.30 L258.00,205.30 L258.25,205.30 L258.50,205.30 L258.75,205.30 L259.00,205.30 L259.25,205.30 L259.50,205.30 L259.75,205.30 L260.00,205.30 L260.25,205.30 L260.50,205.30 L260.75,205.30 L261.00,205.30 L261.25,205.30 L261.50,205.30 L261.75,205.30 L262.00,205.30 L262.25,205.30 L262.50,205.30 L262.75,205.30 L263.00,205.30 L263.25,205.30 L263.50,205.30 L263.75,205.30 L264.00,205.30 L264.25,205.30 L264.50,205.30 L264.75,205.30 L265.00,205.30 L265.25,205.30 L265.50,205.30 L265.75,205.30 L266.00,205.30 L266.25,205.30 L266.50,205.30 L266.75,205.30 L267.00,205.30 L267.25,205.30 L267.50,205.30 L267.75,205.30 L268.00,205.30 L268.25,205.30 L268.50,205.30 L268.75,205.30 L269.00,205.30 L269.25,205.30 L269.50,205.30 L269.75,205.30 L270.00,205.30 L270.25,205.30 L270.50,205.30 L270.75,205.30 L271.00,205.30 L271.25,205.30 L271.50,205.30 L271.75,205.30 L272.00,205.30 L272.25,205.30 L272.50,205.30 L272.75,205.30 L273.00,205.30 L273.25,205.30 L273.50,205.30 L273.75,205.30 L274.00,205.30 L274.25,205.30 L274.50,205.30 L274.75,205.30 L275.00,205.30 L275.25,205.30 L275.50,205.30 L275.75,205.30 L276.00,205.30 L276.25,205.30 L276.50,205.30 L276.75,205.30 L277.00,205.30 L277.25,205.30 L277.50,205.30 L277.75,205.30 L278.00,205.30 L278.25,205.30 L278.50,205.30 L278.75,205.30 L279.00,205.30 L279.25,205.30 L279.50,205.30 L279.75,205.30 L280.00,205.30 L280.25,205.30 L280.50,205.30 L280.75,205.30 L281.00,205.30 L281.25,205.30 L281.50,205.30 L281.75,205.30 L282.00,205.30 L282.25,205.30 L282.50,205.30 L282.75,205.30 L283.00,205.30 L283.25,205.30 L283.50,205.30 L283.75,205.30 L284.00,205.30 L284.25,205.30 L284.50,205.30 L284.75,205.30 L285.00,205.30 L285.25,205.30 L285.50,205.30 L285.75,205.30 L286.00,205.30 L286.25,205.30 L286.50,205.30 L286.75,205.30 L287.00,205.30 L287.25,205.30 L287.50,205.30 L287.75,205.30 L288.00,205.30 L288.25,205.30 L288.50,205.30 L288.75,205.30 L289.00,205.30 L289.25,205.30 L289.50,205.30 L289.75,205.30 L290.00,205.30 L290.25,205.30 L290.50,205.30 L290.75,205.30 L291.00,205.30 L291.25,205.30 L291.50,205.30 L291.75,205.30 L292.00,205.30 L292.25,205.30 L292.50,205.30 L292.75,205.30 L293.00,205.30 L293.25,205.30 L293.50,205.30 L293.75,205.30 L294.00,205.30 L294.25,205.30 L294.50,205.30 L294.75,205.30 L295.00,205.30 L295.25,205.30 L295.50,205.30 L295.75,205.30 L296.00,205.30 L296.25,205.30 L296.50,205.30 L296.75,205.30 L297.00,205.30 L297.25,205.30 L297.50,205.30 L297.75,205.30 L298.00,205.30 L298.25,205.30 L298.50,205.30 L298.75,205.30 L299.00,205.30 L299.25,205.30 L299.50,205.30 L299.75,205.30 L300.00,205.30 L300.25,205.30 L300.50,205.30 L300.75,205.30 L301.00,205.30 L301.25,205.30 L301.50,205.30 L301.75,205.30 L302.00,205.30 L302.25,205.30 L302.50,205.30 L302.75,205.30 L303.00,205.30 L303.25,205.30 L303.50,205.30 L303.75,205.30 L304.00,205.30 L304.25,205.30 L304.50,205.30 L304.75,205.30 L305.00,205.30 L305.25,205.30 L305.50,205.30 L305.75,205.30 L306.00,205.30 L306.25,205.30 L306.50,205.30 L306.75,205.30 L307.00,205.30 L307.25,205.30 L307.50,205.30 L307.75,205.30 L308.00,205.30 L308.25,205.30 L308.50,205.30 L308.75,205.30 L309.00,205.30 L309.25,205.30 L309.50,205.30 L309.75,205.30 L310.00,205.30 L310.25,205.30 L310.50,205.30 L310.75,205.30 L311.00,205.30 L311.25,205.30 L311.50,205.30 L311.75,205.30 L312.00,205.30 L312.25,205.30 L312.50,205.30 L312.75,205.30 L313.00,205.30 L313.25,205.30 L313.50,205.30 L313.75,205.30 L314.00,205.30 L314.25,205.30 L314.50,205.30 L314.75,205.30 L315.00,205.30 L315.25,205.30 L315.50,205.30 L315.75,205.30 L316.00,205.30 L316.25,205.30 L316.50,205.30 L316.75,205.30 L317.00,205.30 L317.25,205.30 L317.50,205.30 L317.75,205.30 L318.00,205.30 L318.25,205.30 L318.50,205.30" fill="none" stroke="#262626" stroke-width="1"/>
<path d="M399.50,94.08 L400.50,94.08 L401.50,94.08 L402.50,94.09 L403.50,94.09 L404.50,94.09 L405.50,94.09 L406.50,94.10 L407.50,94.10 L408.50,94.10 L409.50,94.11 L410.50,94.11 L411.50,94.12 L412.50,94.12 L413.50,94.13 L414.50,94.13 L415.50,94.13 L416.50,94.14 L417.50,94.15 L418.50,94.15 L419.50,94.16 L420.50,94.16 L421.50,94.17 L422.50,94.18 L423.50,94.18 L424.50,94.19 L425.50,94.20 L426.50,94.21 L427.50,94.22 L428.50,94.23 L429.50,94.24 L430.50,94.25 L431.50,94.26 L432.50,94.27 L433.50,94.28 L434.50,94.29 L435.50,94.31 L436.50,94.32 L437.50,94.34 L438.50,94.35 L439.50,94.37 L440.50,94.38 L441.50,94.40 L442.50,94.42 L443.50,94.44 L444.50,94.46 L445.50,94.48 L446.50,94.50 L447.50,94.53 L448.50,94.55 L449.50,94.58 L450.50,94.61 L451.50,94.63 L452.50,94.66 L453.50,94.70 L454.50,94.73 L455.50,94.76 L456.50,94.80 L457.50,94.84 L458.50,94.88 L459.50,94.92 L460.50,94.97 L461.50,95.01 L462.50,95.06 L463.50,95.11 L464.50,95.17 L465.50,95.23 L466.50,95.29 L467.50,95.35 L468.50,95.41 L469.50,95.48 L470.50,95.55 L471.50,95.63 L472.50,95.71 L473.50,95.79 L474.50,95.88 L475.50,95.97 L476.50,96.07 L477.50,96.17 L478.50,96.28 L479.50,96.39 L480.50,96.51 L481.50,96.63 L482.50,96.76 L483.50,96.89 L484.50,97.03 L485.50,97.18 L486.50,97.34 L487.50,97.50 L488.50,97.67 L489.50,97.85 L490.50,98.03 L491.50,98.23 L492.50,98.44 L493.50,98.65 L494.50,98.88 L495.50,99.11 L496.50,99.36 L497.50,99.62 L498.50,99.89 L499.50,100.17 L500.50,100.47 L501.50,100.78 L502.50,101.10 L503.50,101.44 L504.50,101.80 L505.50,102.17 L506.50,102.55 L507.50,102.96 L508.50,103.38 L509.50,103.82 L510.50,104.28 L511.50,104.76 L512.50,105.27 L513.50,105.79 L514.50,106.34 L515.50,106.90 L516.50,107.50 L517.50,108.11 L518.50,108.76 L519.50,109.43 L520.50,110.12 L521.50,110.85 L522.50,111.60 L523.50,112.38 L524.50,113.19 L525.50,114.03 L526.50,114.91 L527.50,115.81 L528.50,116.75 L529.50,117.73 L530.50,118.73 L531.50,119.77 L532.50,120.85 L533.50,121.96 L534.50,123.11 L535.50,124.30 L536.50,125.52 L537.50,126.77 L538.50,128.07 L539.50,129.40 L540.50,130.77 L541.50,132.18 L542.50,133.62 L543.50,135.10 L544.50,136.61 L545.50,138.16 L546.50,139.74 L547.50,141.36 L548.50,143.01 L549.50,144.69 L550.50,146.41 L551.50,148.15 L552.50,149.92 L553.50,151.72 L554.50,153.54 L555.50,155.39 L556.50,157.26 L557.50,159.14 L558.50,161.05 L559.50,162.97 L560.50,164.91 L561.50,166.86 L562.50,168.81 L563.50,170.78 L564.50,172.75 L565.50,174.72 L566.50,176.70 L567.50,178.67 L568.50,180.64 L569.50,182.60 L570.50,184.56 L571.50,186.50 L572.50,188.43 L573.50,190.35 L574.50,192.25 L575.50,194.13 L576.50,195.99 L577.50,197.84 L578.50,199.65 L579.50,201.44 L580.50,203.21 L581.50,204.95 L582.50,206.66 L583.50,208.33 L584.50,209.98 L585.50,211.60 L586.50,213.18 L587.50,214.73 L588.50,216.24 L589.50,217.72 L590.50,219.17 L591.50,220.58 L592.50,221.96 L593.50,223.30 L594.50,224.60 L595.50,225.87 L596.50,227.10 L597.50,228.30 L598.50,229.46 L599.50,230.59 L600.50,231.69 L601.50,232.75 L602.50,233.78 L603.50,234.77 L604.50,235.73 L605.50,236.67 L606.50,237.57 L607.50,238.44 L608.50,239.28 L609.50,240.09 L610.50,240.87 L611.50,241.63 L612.50,242.36 L613.50,243.06 L614.50,243.73 L615.50,244.39 L616.50,245.01 L617.50,245.62 L618.50,246.20 L619.50,246.76 L620.50,247.30 L621.50,247.82 L622.50,248.31 L623.50,248.79 L624.50,249.25 L625.50,249.69 L626.50,250.12 L627.50,250.52 L628.50,250.92 L629.50,251.29 L630.50,251.65 L631.50,252.00 L632.50,252.33 L633.50,252.65 L634.50,252.95 L635.50,253.25 L636.50,253.53 L637.50,253.80 L638.50,254.06 L639.50,254.30 L640.50,254.54 L641.50,254.77 L642.50,254.99 L643.50,255.20 L644.50,255.40 L645.50,255.59 L646.50,255.77 L647.50,255.95 L648.50,256.12 L649.50,256.28 L650.50,256.43 L651.50,256.58 L652.50,256.72 L653.50,256.86 L654.50,256.99 L655.50,257.11 L656.50,257.23 L657.50,257.35 L658.50,257.46 L659.50,257.56 L660.50,257.66 L661.50,257.76 L662.50,257.85 L663.50,257.94 L664.50,258.02 L665.50,258.10 L666.50,258.18 L667.50,258.25 L668.50,258.32 L669.50,258.39 L670.50,258.45 L671.50,258.51 L672.50,258.57 L673.50,258.63" fill="none" stroke="#262626" stroke-width="1"/>
<path d="M399.50,77.82 L400.50,77.89 L401.50,77.97 L402.50,78.04 L403.50,78.12 L404.50,78.20 L405.50,78.29 L406.50,78.37 L407.50,78.46 L408.50,78.56 L409.50,78.65 L410.50,78.75 L411.50,78.85 L412.50,78.95 L413.50,79.06 L414.50,79.17 L415.50,79.29 L416.50,79.41 L417.50,79.53 L418.50,79.66 L419.50,79.79 L420.50,79.92 L421.50,80.06 L422.50,80.20 L423.50,80.35 L424.50,80.50 L425.50,80.66 L426.50,80.82 L427.50,80.99 L428.50,81.16 L429.50,81.34 L430.50,81.52 L431.50,81.71 L432.50,81.91 L433.50,82.11 L434.50,82.31 L435.50,82.53 L436.50,82.74 L437.50,82.97 L438.50,83.20 L439.50,83.44 L440.50,83.69 L441.50,83.95 L442.50,84.21 L443.50,84.48 L444.50,84.76 L445.50,85.04 L446.50,85.34 L447.50,85.64 L448.50,85.95 L449.50,86.27 L450.50,86.60 L451.50,86.94 L452.50,87.29 L453.50,87.65 L454.50,88.02 L455.50,88.40 L456.50,88.79 L457.50,89.19 L458.50,89.60 L459.50,90.03 L460.50,90.46 L461.50,90.91 L462.50,91.37 L463.50,91.84 L464.50,92.32 L465.50,92.82 L466.50,93.33 L467.50,93.85 L468.50,94.38 L469.50,94.93 L470.50,95.49 L471.50,96.07 L472.50,96.66 L473.50,97.27 L474.50,97.89 L475.50,98.52 L476.50,99.17 L477.50,99.84 L478.50,100.52 L479.50,101.21 L480.50,101.92 L481.50,102.65 L482.50,103.39 L483.50,104.15 L484.50,104.93 L485.50,105.72 L486.50,106.53 L487.50,107.35 L488.50,108.19 L489.50,109.05 L490.50,109.92 L491.50,110.81 L492.50,111.72 L493.50,112.64 L494.50,113.58 L495.50,114.54 L496.50,115.51 L497.50,116.49 L498.50,117.50 L499.50,118.52 L500.50,119.55 L501.50,120.60 L502.50,121.67 L503.50,122.75 L504.50,123.85 L505.50,124.96 L506.50,126.08 L507.50,127.22 L508.50,128.37 L509.50,129.54 L510.50,130.71 L511.50,131.90 L512.50,133.11 L513.50,134.32 L514.50,135.54 L515.50,136.78 L516.50,138.02 L517.50,139.28 L518.50,140.54 L519.50,141.82 L520.50,143.10 L521.50,144.38 L522.50,145.68 L523.50,146.98 L524.50,148.29 L525.50,149.60 L526.50,150.91 L527.50,152.23 L528.50,153.56 L529.50,154.88 L530.50,156.21 L531.50,157.54 L532.50,158.87 L533.50,160.20 L534.50,161.52 L535.50,162.85 L536.50,164.17 L537.50,165.50 L538.50,166.82 L539.50,168.13 L540.50,169.44 L541.50,170.75 L542.50,172.05 L543.50,173.34 L544.50,174.63 L545.50,175.91 L546.50,177.18 L547.50,178.45 L548.50,179.70 L549.50,180.95 L550.50,182.19 L551.50,183.41 L552.50,184.63 L553.50,185.84 L554.50,187.03 L555.50,188.21 L556.50,189.38 L557.50,190.54 L558.50,191.69 L559.50,192.82 L560.50,193.94 L561.50,195.05 L562.50,196.14 L563.50,197.22 L564.50,198.29 L565.50,199.34 L566.50,200.37 L567.50,201.40 L568.50,202.41 L569.50,203.40 L570.50,204.38 L571.50,205.34 L572.50,206.29 L573.50,207.22 L574.50,208.14 L575.50,209.05 L576.50,209.94 L577.50,210.81 L578.50,211.67 L579.50,212.52 L580.50,213.35 L581.50,214.16 L582.50,214.96 L583.50,215.75 L584.50,216.52 L585.50,217.28 L586.50,218.02 L587.50,218.75 L588.50,219.47 L589.50,220.17 L590.50,220.86 L591.50,221.53 L592.50,222.19 L593.50,222.84 L594.50,223.47 L595.50,224.09 L596.50,224.70 L597.50,225.30 L598.50,225.88 L599.50,226.45 L600.50,227.01 L601.50,227.56 L602.50,228.10 L603.50,228.62 L604.50,229.13 L605.50,229.63 L606.50,230.12 L607.50,230.60 L608.50,231.07 L609.50,231.53 L610.50,231.98 L611.50,232.42 L612.50,232.85 L613.50,233.26 L614.50,233.67 L615.50,234.07 L616.50,234.46 L617.50,234.85 L618.50,235.22 L619.50,235.58 L620.50,235.94 L621.50,236.28 L622.50,236.62 L623.50,236.95 L624.50,237.28 L625.50,237.59 L626.50,237.90 L627.50,238.20 L628.50,238.50 L629.50,238.78 L630.50,239.06 L631.50,239.34 L632.50,239.60 L633.50,239.86 L634.50,240.12 L635.50,240.36 L636.50,240.60 L637.50,240.84 L638.50,241.07 L639.50,241.29 L640.50,241.51 L641.50,241.73 L642.50,241.94 L643.50,242.14 L644.50,242.34 L645.50,242.53 L646.50,242.72 L647.50,242.90 L648.50,243.08 L649.50,243.26 L650.50,243.43 L651.50,243.59 L652.50,243.75 L653.50,243.91 L654.50,244.07 L655.50,244.22 L656.50,244.36 L657.50,244.51 L658.50,244.64 L659.50,244.78 L660.50,244.91 L661.50,245.04 L662.50,245.17 L663.50,245.29 L664.50,245.41 L665.50,245.53 L666.50,245.64 L667.50,245.75 L668.50,245.86 L669.50,245.96 L670.50,246.07 L671.50,246.17 L672.50,246.26 L673.50,246.36" fill="none" stroke="#262626" stroke-width="1"/>
<path d="M399.50,126.65 L400.50,126.74 L401.50,126.83 L402.50,126.93 L403.50,127.03 L404.50,127.14 L405.50,127.25 L406.50,127.36 L407.50,127.48 L408.50,127.61 L409.50,127.74 L410.50,127.87 L411.50,128.02 L412.50,128.16 L413.50,128.32 L414.50,128.48 L415.50,128.65 L416.50,128.82 L417.50,129.01 L418.50,129.20 L419.50,129.40 L420.50,129.60 L421.50,129.82 L422.50,130.04 L423.50,130.28 L424.50,130.52 L425.50,130.77 L426.50,131.04 L427.50,131.31 L428.50,131.59 L429.50,131.89 L430.50,132.19 L431.50,132.51 L432.50,132.84 L433.50,133.18 L434.50,133.53 L435.50,133.90 L436.50,134.28 L437.50,134.67 L438.50,135.07 L439.50,135.49 L440.50,135.93 L441.50,136.37 L442.50,136.83 L443.50,137.31 L444.50,137.80 L445.50,138.31 L446.50,138.83 L447.50,139.36 L448.50,139.92 L449.50,140.48 L450.50,141.06 L451.50,141.66 L452.50,142.27 L453.50,142.90 L454.50,143.54 L455.50,144.19 L456.50,144.86 L457.50,145.55 L458.50,146.25 L459.50,146.96 L460.50,147.68 L461.50,148.42 L462.50,149.17 L463.50,149.93 L464.50,150.70 L465.50,151.48 L466.50,152.27 L467.50,153.07 L468.50,153.88 L469.50,154.70 L470.50,155.52 L471.50,156.35 L472.50,157.19 L473.50,158.03 L474.50,158.87 L475.50,159.72 L476.50,160.56 L477.50,161.41 L478.50,162.26 L479.50,163.11 L480.50,163.95 L481.50,164.80 L482.50,165.64 L483.50,166.47 L484.50,167.30 L485.50,168.13 L486.50,168.94 L487.50,169.75 L488.50,170.56 L489.50,171.35 L490.50,172.13 L491.50,172.90 L492.50,173.67 L493.50,174.42 L494.50,175.16 L495.50,175.88 L496.50,176.60 L497.50,177.30 L498.50,177.98 L499.50,178.66 L500.50,179.32 L501.50,179.96 L502.50,180.59 L503.50,181.21 L504.50,181.81 L505.50,182.40 L506.50,182.97 L507.50,183.53 L508.50,184.07 L509.50,184.60 L510.50,185.11 L511.50,185.61 L512.50,186.10 L513.50,186.57 L514.50,187.02 L515.50,187.47 L516.50,187.90 L517.50,188.31 L518.50,188.71 L519.50,189.10 L520.50,189.48 L521.50,189.85 L522.50,190.20 L523.50,190.54 L524.50,190.87 L525.50,191.18 L526.50,191.49 L527.50,191.78 L528.50,192.07 L529.50,192.34 L530.50,192.61 L531.50,192.86 L532.50,193.11 L533.50,193.35 L534.50,193.57 L535.50,193.79 L536.50,194.00 L537.50,194.21 L538.50,194.40 L539.50,194.59 L540.50,194.77 L541.50,194.94 L542.50,195.11 L543.50,195.27 L544.50,195.42 L545.50,195.57 L546.50,195.71 L547.50,195.85 L548.50,195.98 L549.50,196.11 L550.50,196.23 L551.50,196.34 L552.50,196.46 L553.50,196.56 L554.50,196.66 L555.50,196.76 L556.50,196.86 L557.50,196.95 L558.50,197.03 L559.50,197.12 L560.50,197.20 L561.50,197.27 L562.50,197.35 L563.50,197.42 L564.50,197.48 L565.50,197.55 L566.50,197.61 L567.50,197.67 L568.50,197.73 L569.50,197.78 L570.50,197.83 L571.50,197.88 L572.50,197.93 L573.50,197.98 L574.50,198.02 L575.50,198.06 L576.50,198.10 L577.50,198.14 L578.50,198.18 L579.50,198.21 L580.50,198.25 L581.50,198.28 L582.50,198.31 L583.50,198.34 L584.50,198.37 L585.50,198.40 L586.50,198.42 L587.50,198.45 L588.50,198.47 L589.50,198.50 L590.50,198.52 L591.50,198.54 L592.50,198.56 L593.50,198.58 L594.50,198.60 L595.50,198.61 L596.50,198.63 L597.50,198.65 L598.50,198.66 L599.50,198.68 L600.50,198.69 L601.50,198.71 L602.50,198.72 L603.50,198.73 L604.50,198.74 L605.50,198.76 L606.50,198.77 L607.50,198.78 L608.50,198.79 L609.50,198.80 L610.50,198.81 L611.50,198.81 L612.50,198.82 L613.50,198.83 L614.50,198.84 L615.50,198.85 L616.50,198.85 L617.50,198.86 L618.50,198.87 L619.50,198.87 L620.50,198.88 L621.50,198.88 L622.50,198.89 L623.50,198.90 L624.50,198.90 L625.50,198.90 L626.50,198.91 L627.50,198.91 L628.50,198.92 L629.50,198.92 L630.50,198.93 L631.50,198.93 L632.50,198.93 L633.50,198.94 L634.50,198.94 L635.50,198.94 L636.50,198.95 L637.50,198.95 L638.50,198.95 L639.50,198.95 L640.50,198.96 L641.50,198.96 L642.50,198.96 L643.50,198.96 L644.50,198.97 L645.50,198.97 L646.50,198.97 L647.50,198.97 L648.50,198.97 L649.50,198.97 L650.50,198.98 L651.50,198.98 L652.50,198.98 L653.50,198.98 L654.50,198.98 L655.50,198.98 L656.50,198.98 L657.50,198.99 L658.50,198.99 L659.50,198.99 L660.50,198.99 L661.50,198.99 L662.50,198.99 L663.50,198.99 L664.50,198.99 L665.50,198.99 L666.50,198.99 L667.50,199.00 L668.50,199.00 L669.50,199.00 L670.50,199.00 L671.50,199.00 L672.50,199.00 L673.50,199.00" fill="none" stroke="#262626" stroke-width="1"/>
<path d="M399.50,109.60 L400.50,109.60 L401.50,109.60 L402.50,109.61 L403.50,109.61 L404.50,109.61 L405.50,109.61 L406.50,109.61 L407.50,109.61 L408.50,109.61 L409.50,109.62 L410.50,109.62 L411.50,109.62 L412.50,109.62 L413.50,109.63 L414.50,109.63 L415.50,109.64 L416.50,109.64 L417.50,109.65 L418.50,109.66 L419.50,109.67 L420.50,109.68 L421.50,109.69 L422.50,109.71 L423.50,109.72 L424.50,109.74 L425.50,109.76 L426.50,109.79 L427.50,109.81 L428.50,109.85 L429.50,109.88 L430.50,109.93 L431.50,109.98 L432.50,110.03 L433.50,110.10 L434.50,110.17 L435.50,110.26 L436.50,110.36 L437.50,110.47 L438.50,110.61 L439.50,110.76 L440.50,110.93 L441.50,111.13 L442.50,111.36 L443.50,111.62 L444.50,111.92 L445.50,112.26 L446.50,112.66 L447.50,113.11 L448.50,113.62 L449.50,114.20 L450.50,114.87 L451.50,115.63 L452.50,116.49 L453.50,117.46 L454.50,118.56 L455.50,119.80 L456.50,121.19 L457.50,122.75 L458.50,124.49 L459.50,126.43 L460.50,128.56 L461.50,130.92 L462.50,133.50 L463.50,136.30 L464.50,139.33 L465.50,142.59 L466.50,146.05 L467.50,149.72 L468.50,153.57 L469.50,157.57 L470.50,161.70 L471.50,165.92 L472.50,170.19 L473.50,174.48 L474.50,178.75 L475.50,182.96 L476.50,187.08 L477.50,191.08 L478.50,194.93 L479.50,198.62 L480.50,202.12 L481.50,205.42 L482.50,208.52 L483.50,211.41 L484.50,214.10 L485.50,216.59 L486.50,218.88 L487.50,220.98 L488.50,222.90 L489.50,224.66 L490.50,226.26 L491.50,227.71 L492.50,229.02 L493.50,230.21 L494.50,231.29 L495.50,232.25 L496.50,233.13 L497.50,233.91 L498.50,234.62 L499.50,235.26 L500.50,235.83 L501.50,236.34 L502.50,236.80 L503.50,237.21 L504.50,237.58 L505.50,237.91 L506.50,238.20 L507.50,238.47 L508.50,238.70 L509.50,238.92 L510.50,239.11 L511.50,239.27 L512.50,239.43 L513.50,239.56 L514.50,239.68 L515.50,239.79 L516.50,239.89 L517.50,239.98 L518.50,240.05 L519.50,240.12 L520.50,240.19 L521.50,240.24 L522.50,240.29 L523.50,240.33 L524.50,240.37 L525.50,240.41 L526.50,240.44 L527.50,240.47 L528.50,240.49 L529.50,240.52 L530.50,240.54 L531.50,240.56 L532.50,240.57 L533.50,240.59 L534.50,240.60 L535.50,240.61 L536.50,240.62 L537.50,240.63 L538.50,240.64 L539.50,240.65 L540.50,240.65 L541.50,240.66 L542.50,240.66 L543.50,240.67 L544.50,240.67 L545.50,240.68 L546.50,240.68 L547.50,240.68 L548.50,240.69 L549.50,240.69 L550.50,240.69 L551.50,240.69 L552.50,240.69 L553.50,240.69 L554.50,240.70 L555.50,240.70 L556.50,240.70 L557.50,240.70 L558.50,240.70 L559.50,240.70 L560.50,240.70 L561.50,240.70 L562.50,240.70 L563.50,240.70 L564.50,240.70 L565.50,240.70 L566.50,240.70 L567.50,240.70 L568.50,240.71 L569.50,240.71 L570.50,240.71 L571.50,240.71 L572.50,240.71 L573.50,240.71 L574.50,240.71 L575.50,240.71 L576.50,240.71 L577.50,240.71 L578.50,240.71 L579.50,240.71 L580.50,240.71 L581.50,240.71 L582.50,240.71 L583.50,240.71 L584.50,240.71 L585.50,240.71 L586.50,240.71 L587.50,240.71 L588.50,240.71 L589.50,240.71 L590.50,240.71 L591.50,240.71 L592.50,240.71 L593.50,240.71 L594.50,240.71 L595.50,240.71 L596.50,240.71 L597.50,240.71 L598.50,240.71 L599.50,240.71 L600.50,240.71 L601.50,240.71 L602.50,240.71 L603.50,240.71 L604.50,240.71 L605.50,240.71 L606.50,240.71 L607.50,240.71 L608.50,240.71 L609.50,240.71 L610.50,240.71 L611.50,240.71 L612.50,240.71 L613.50,240.71 L614.50,240.71 L615.50,240.71 L616.50,240.71 L617.50,240.71 L618.50,240.71 L619.50,240.71 L620.50,240.71 L621.50,240.71 L622.50,240.71 L623.50,240.71 L624.50,240.71 L625.50,240.71 L626.50,240.71 L627.50,240.71 L628.50,240.71 L629.50,240.71 L630.50,240.71 L631.50,240.71 L632.50,240.71 L633.50,240.71 L634.50,240.71 L635.50,240.71 L636.50,240.71 L637.50,240.71 L638.50,240.71 L639.50,240.71 L640.50,240.71 L641.50,240.71 L642.50,240.71 L643.50,240.71 L644.50,240.71 L645.50,240.71 L646.50,240.71 L647.50,240.71 L648.50,240.71 L649.50,240.71 L650.50,240.71 L651.50,240.71 L652.50,240.71 L653.50,240.71 L654.50,240.71 L655.50,240.71 L656.50,240.71 L657.50,240.71 L658.50,240.71 L659.50,240.71 L660.50,240.71 L661.50,240.71 L662.50,240.71 L663.50,240.71 L664.50,240.71 L665.50,240.71 L666.50,240.71 L667.50,240.71 L668.50,240.71 L669.50,240.71 L670.50,240.71 L671.50,240.71 L672.50,240.71 L673.50,240.71" fill="none" stroke="#262626" stroke-width="1"/>
<path d="M399.50,75.40 L400.50,75.40 L401.50,75.40 L402.50,75.40 L403.50,75.41 L404.50,75.41 L405.50,75.41 L406.50,75.42 L407.50,75.42 L408.50,75.42 L409.50,75.43 L410.50,75.44 L411.50,75.44 L412.50,75.45 L413.50,75.46 L414.50,75.46 L415.50,75.47 L416.50,75.48 L417.50,75.49 L418.50,75.50 L419.50,75.51 L420.50,75.52 L421.50,75.53 L422.50,75.54 L423.50,75.55 L424.50,75.56 L425.50,75.57 L426.50,75.58 L427.50,75.59 L428.50,75.61 L429.50,75.62 L430.50,75.64 L431.50,75.65 L432.50,75.67 L433.50,75.69 L434.50,75.72 L435.50,75.74 L436.50,75.77 L437.50,75.80 L438.50,75.82 L439.50,75.86 L440.50,75.89 L441.50,75.92 L442.50,75.95 L443.50,75.99 L444.50,76.03 L445.50,76.06 L446.50,76.10 L447.50,76.14 L448.50,76.18 L449.50,76.22 L450.50,76.26 L451.50,76.31 L452.50,76.35 L453.50,76.39 L454.50,76.43 L455.50,76.48 L456.50,76.52 L457.50,76.57 L458.50,76.61 L459.50,76.66 L460.50,76.71 L461.50,76.76 L462.50,76.82 L463.50,76.87 L464.50,76.93 L465.50,76.99 L466.50,77.05 L467.50,77.12 L468.50,77.18 L469.50,77.25 L470.50,77.32 L471.50,77.39 L472.50,77.46 L473.50,77.54 L474.50,77.62 L475.50,77.70 L476.50,77.79 L477.50,77.87 L478.50,77.96 L479.50,78.05 L480.50,78.15 L481.50,78.26 L482.50,78.37 L483.50,78.50 L484.50,78.64 L485.50,78.78 L486.50,78.93 L487.50,79.09 L488.50,79.25 L489.50,79.41 L490.50,79.58 L491.50,79.74 L492.50,79.90 L493.50,80.06 L494.50,80.22 L495.50,80.38 L496.50,80.53 L497.50,80.68 L498.50,80.83 L499.50,80.98 L500.50,81.13 L501.50,81.28 L502.50,81.44 L503.50,81.60 L504.50,81.77 L505.50,81.94 L506.50,82.12 L507.50,82.30 L508.50,82.49 L509.50,82.70 L510.50,82.91 L511.50,83.14 L512.50,83.37 L513.50,83.60 L514.50,83.85 L515.50,84.09 L516.50,84.34 L517.50,84.58 L518.50,84.83 L519.50,85.08 L520.50,85.32 L521.50,85.55 L522.50,85.79 L523.50,86.01 L524.50,86.23 L525.50,86.44 L526.50,86.65 L527.50,86.86 L528.50,87.06 L529.50,87.26 L530.50,87.46 L531.50,87.67 L532.50,87.87 L533.50,88.08 L534.50,88.30 L535.50,88.51 L536.50,88.74 L537.50,88.97 L538.50,89.22 L539.50,89.47 L540.50,89.73 L541.50,90.01 L542.50,90.29 L543.50,90.59 L544.50,90.89 L545.50,91.20 L546.50,91.53 L547.50,91.87 L548.50,92.21 L549.50,92.57 L550.50,92.93 L551.50,93.31 L552.50,93.70 L553.50,94.10 L554.50,94.53 L555.50,94.97 L556.50,95.43 L557.50,95.91 L558.50,96.41 L559.50,96.93 L560.50,97.48 L561.50,98.06 L562.50,98.68 L563.50,99.32 L564.50,99.99 L565.50,100.66 L566.50,101.34 L567.50,102.01 L568.50,102.68 L569.50,103.36 L570.50,104.08 L571.50,104.83 L572.50,105.63 L573.50,106.50 L574.50,107.44 L575.50,108.46 L576.50,109.56 L577.50,110.73 L578.50,111.98 L579.50,113.31 L580.50,114.72 L581.50,116.31 L582.50,118.04 L583.50,119.88 L584.50,121.79 L585.50,123.73 L586.50,125.68 L587.50,127.58 L588.50,129.41 L589.50,131.22 L590.50,133.03 L591.50,134.85 L592.50,136.68 L593.50,138.55 L594.50,140.46 L595.50,142.41 L596.50,144.40 L597.50,146.42 L598.50,148.45 L599.50,150.48 L600.50,152.51 L601.50,154.53 L602.50,156.52 L603.50,158.47 L604.50,160.40 L605.50,162.30 L606.50,164.20 L607.50,166.10 L608.50,168.03 L609.50,169.98 L610.50,171.98 L611.50,174.01 L612.50,176.04 L613.50,178.07 L614.50,180.07 L615.50,182.04 L616.50,183.95 L617.50,185.85 L618.50,187.73 L619.50,189.57 L620.50,191.38 L621.50,193.14 L622.50,194.85 L623.50,196.53 L624.50,198.16 L625.50,199.75 L626.50,201.27 L627.50,202.72 L628.50,204.14 L629.50,205.52 L630.50,206.82 L631.50,208.04 L632.50,209.14 L633.50,210.14 L634.50,211.08 L635.50,211.96 L636.50,212.83 L637.50,213.67 L638.50,214.47 L639.50,215.20 L640.50,215.88 L641.50,216.53 L642.50,217.14 L643.50,217.72 L644.50,218.25 L645.50,218.74 L646.50,219.21 L647.50,219.67 L648.50,220.10 L649.50,220.52 L650.50,220.92 L651.50,221.30 L652.50,221.67 L653.50,222.01 L654.50,222.34 L655.50,222.65 L656.50,222.95 L657.50,223.24 L658.50,223.52 L659.50,223.79 L660.50,224.04 L661.50,224.28 L662.50,224.50 L663.50,224.70 L664.50,224.89 L665.50,225.07 L666.50,225.25 L667.50,225.42 L668.50,225.58 L669.50,225.72 L670.50,225.86 L671.50,225.99 L672.50,226.10 L673.50,226.20" fill="none" stroke="#262626" stroke-width="1"/>
<path d="M399.50,84.90 L400.50,84.90 L401.50,84.90 L402.50,84.90 L403.50,84.90 L404.50,84.90 L405.50,84.90 L406.50,84.90 L407.50,84.90 L408.50,84.90 L409.50,84.90 L410.50,84.90 L411.50,84.90 L412.50,84.90 L413.50,84.90 L414.50,84.90 L415.50,84.90 L416.50,84.90 L417.50,84.90 L418.50,84.90 L419.50,84.90 L420.50,84.90 L421.50,84.90 L422.50,84.90 L423.50,84.90 L424.50,84.90 L425.50,84.90 L426.50,84.90 L427.50,84.90 L428.50,84.90 L429.50,84.90 L430.50,84.90 L431.50,84.90 L432.50,84.90 L433.50,84.90 L434.50,84.90 L435.50,84.90 L436.50,84.90 L437.50,84.90 L438.50,84.90 L439.50,84.90 L440.50,84.90 L441.50,84.90 L442.50,84.90 L443.50,84.90 L444.50,84.90 L445.50,84.90 L446.50,84.90 L447.50,84.90 L448.50,84.90 L449.50,84.90 L450.50,84.90 L451.50,84.90 L452.50,84.90 L453.50,84.90 L454.50,84.90 L455.50,84.90 L456.50,84.90 L457.50,84.90 L458.50,84.90 L459.50,84.90 L460.50,84.90 L461.50,84.90 L462.50,84.90 L463.50,84.90 L464.50,84.90 L465.50,84.90 L466.50,84.90 L467.50,84.90 L468.50,84.90 L469.50,84.90 L470.50,84.90 L471.50,84.90 L472.50,84.90 L473.50,84.90 L474.50,84.90 L475.50,84.90 L476.50,84.90 L477.50,84.91 L478.50,84.91 L479.50,84.91 L480.50,84.91 L481.50,84.91 L482.50,84.92 L483.50,84.92 L484.50,84.92 L485.50,84.92 L486.50,84.93 L487.50,84.93 L488.50,84.94 L489.50,84.94 L490.50,84.94 L491.50,84.95 L492.50,84.95 L493.50,84.96 L494.50,84.96 L495.50,84.97 L496.50,84.98 L497.50,84.98 L498.50,84.99 L499.50,85.00 L500.50,85.00 L501.50,85.02 L502.50,85.04 L503.50,85.08 L504.50,85.11 L505.50,85.16 L506.50,85.20 L507.50,85.26 L508.50,85.31 L509.50,85.37 L510.50,85.43 L511.50,85.50 L512.50,85.58 L513.50,85.67 L514.50,85.78 L515.50,85.90 L516.50,86.03 L517.50,86.17 L518.50,86.33 L519.50,86.51 L520.50,86.71 L521.50,86.99 L522.50,87.35 L523.50,87.78 L524.50,88.26 L525.50,88.79 L526.50,89.34 L527.50,89.90 L528.50,90.47 L529.50,91.03 L530.50,91.57 L531.50,92.12 L532.50,92.68 L533.50,93.27 L534.50,93.86 L535.50,94.48 L536.50,95.11 L537.50,95.76 L538.50,96.42 L539.50,97.10 L540.50,97.80 L541.50,98.52 L542.50,99.27 L543.50,100.05 L544.50,100.85 L545.50,101.67 L546.50,102.51 L547.50,103.36 L548.50,104.23 L549.50,105.10 L550.50,105.98 L551.50,106.86 L552.50,107.74 L553.50,108.63 L554.50,109.53 L555.50,110.44 L556.50,111.36 L557.50,112.31 L558.50,113.29 L559.50,114.29 L560.50,115.32 L561.50,116.38 L562.50,117.46 L563.50,118.57 L564.50,119.71 L565.50,120.89 L566.50,122.10 L567.50,123.36 L568.50,124.66 L569.50,126.02 L570.50,127.44 L571.50,128.91 L572.50,130.41 L573.50,131.95 L574.50,133.51 L575.50,135.08 L576.50,136.65 L577.50,138.22 L578.50,139.78 L579.50,141.33 L580.50,142.90 L581.50,144.47 L582.50,146.05 L583.50,147.63 L584.50,149.23 L585.50,150.85 L586.50,152.47 L587.50,154.11 L588.50,155.77 L589.50,157.45 L590.50,159.14 L591.50,160.87 L592.50,162.65 L593.50,164.46 L594.50,166.29 L595.50,168.11 L596.50,169.89 L597.50,171.66 L598.50,173.42 L599.50,175.17 L600.50,176.92 L601.50,178.66 L602.50,180.40 L603.50,182.13 L604.50,183.87 L605.50,185.61 L606.50,187.35 L607.50,189.08 L608.50,190.80 L609.50,192.50 L610.50,194.18 L611.50,195.82 L612.50,197.44 L613.50,199.04 L614.50,200.63 L615.50,202.19 L616.50,203.73 L617.50,205.25 L618.50,206.74 L619.50,208.20 L620.50,209.62 L621.50,211.03 L622.50,212.43 L623.50,213.84 L624.50,215.27 L625.50,216.74 L626.50,218.24 L627.50,219.76 L628.50,221.29 L629.50,222.80 L630.50,224.28 L631.50,225.72 L632.50,227.15 L633.50,228.58 L634.50,229.99 L635.50,231.36 L636.50,232.67 L637.50,233.91 L638.50,235.07 L639.50,236.15 L640.50,237.18 L641.50,238.16 L642.50,239.13 L643.50,240.07 L644.50,241.02 L645.50,241.98 L646.50,242.96 L647.50,243.93 L648.50,244.90 L649.50,245.84 L650.50,246.74 L651.50,247.60 L652.50,248.39 L653.50,249.15 L654.50,249.89 L655.50,250.59 L656.50,251.28 L657.50,251.94 L658.50,252.57 L659.50,253.20 L660.50,253.80 L661.50,254.40 L662.50,254.97 L663.50,255.53 L664.50,256.07 L665.50,256.59 L666.50,257.07 L667.50,257.52 L668.50,257.96 L669.50,258.38 L670.50,258.78 L671.50,259.15 L672.50,259.51 L673.50,259.84" fill="none" stroke="#262626" stroke-width="1"/>
<line x1="112.5" y1="73" x2="112.5" y2="77" stroke="#222" stroke-width="1"/><line x1="109.75" y1="73" x2="115.25" y2="73" stroke="#222" stroke-width="1"/><line x1="109.75" y1="77" x2="115.25" y2="77" stroke="#222" stroke-width="1"/>
<line x1="145.5" y1="77.8" x2="145.5" y2="89.8" stroke="#222" stroke-width="1"/><line x1="142.75" y1="77.8" x2="148.25" y2="77.8" stroke="#222" stroke-width="1"/><line x1="142.75" y1="89.8" x2="148.25" y2="89.8" stroke="#222" stroke-width="1"/>
<line x1="222.5" y1="141.5" x2="222.5" y2="155" stroke="#222" stroke-width="1"/><line x1="219.75" y1="141.5" x2="225.25" y2="141.5" stroke="#222" stroke-width="1"/><line x1="219.75" y1="155" x2="225.25" y2="155" stroke="#222" stroke-width="1"/>
<line x1="242.2" y1="156.5" x2="242.2" y2="164" stroke="#222" stroke-width="1"/><line x1="239.45" y1="156.5" x2="244.95" y2="156.5" stroke="#222" stroke-width="1"/><line x1="239.45" y1="164" x2="244.95" y2="164" stroke="#222" stroke-width="1"/>
<line x1="72.2" y1="85.8" x2="72.2" y2="95.2" stroke="#222" stroke-width="1"/><line x1="69.45" y1="85.8" x2="74.95" y2="85.8" stroke="#222" stroke-width="1"/><line x1="69.45" y1="95.2" x2="74.95" y2="95.2" stroke="#222" stroke-width="1"/>
<line x1="104.7" y1="92.5" x2="104.7" y2="123" stroke="#222" stroke-width="1"/><line x1="101.95" y1="92.5" x2="107.45" y2="92.5" stroke="#222" stroke-width="1"/><line x1="101.95" y1="123" x2="107.45" y2="123" stroke="#222" stroke-width="1"/>
<line x1="137.5" y1="108.2" x2="137.5" y2="127" stroke="#222" stroke-width="1"/><line x1="134.75" y1="108.2" x2="140.25" y2="108.2" stroke="#222" stroke-width="1"/><line x1="134.75" y1="127" x2="140.25" y2="127" stroke="#222" stroke-width="1"/>
<line x1="169.5" y1="120" x2="169.5" y2="140" stroke="#222" stroke-width="1"/><line x1="166.75" y1="120" x2="172.25" y2="120" stroke="#222" stroke-width="1"/><line x1="166.75" y1="140" x2="172.25" y2="140" stroke="#222" stroke-width="1"/>
<line x1="202.2" y1="99.5" x2="202.2" y2="123" stroke="#222" stroke-width="1"/><line x1="199.45" y1="99.5" x2="204.95" y2="99.5" stroke="#222" stroke-width="1"/><line x1="199.45" y1="123" x2="204.95" y2="123" stroke="#222" stroke-width="1"/>
<line x1="87.5" y1="78.5" x2="87.5" y2="88" stroke="#222" stroke-width="1"/><line x1="84.75" y1="78.5" x2="90.25" y2="78.5" stroke="#222" stroke-width="1"/><line x1="84.75" y1="88" x2="90.25" y2="88" stroke="#222" stroke-width="1"/>
<line x1="151.5" y1="134.5" x2="151.5" y2="143.5" stroke="#222" stroke-width="1"/><line x1="148.75" y1="134.5" x2="154.25" y2="134.5" stroke="#222" stroke-width="1"/><line x1="148.75" y1="143.5" x2="154.25" y2="143.5" stroke="#222" stroke-width="1"/>
<line x1="87.5" y1="75.5" x2="87.5" y2="91.5" stroke="#222" stroke-width="1"/><line x1="84.75" y1="75.5" x2="90.25" y2="75.5" stroke="#222" stroke-width="1"/><line x1="84.75" y1="91.5" x2="90.25" y2="91.5" stroke="#222" stroke-width="1"/>
<line x1="119.6" y1="110.5" x2="119.6" y2="120.2" stroke="#222" stroke-width="1"/><line x1="116.85" y1="110.5" x2="122.35" y2="110.5" stroke="#222" stroke-width="1"/><line x1="116.85" y1="120.2" x2="122.35" y2="120.2" stroke="#222" stroke-width="1"/>
<line x1="151.8" y1="114.8" x2="151.8" y2="128.5" stroke="#222" stroke-width="1"/><line x1="149.05" y1="114.8" x2="154.55" y2="114.8" stroke="#222" stroke-width="1"/><line x1="149.05" y1="128.5" x2="154.55" y2="128.5" stroke="#222" stroke-width="1"/>
<line x1="216" y1="96.8" x2="216" y2="116.2" stroke="#222" stroke-width="1"/><line x1="213.25" y1="96.8" x2="218.75" y2="96.8" stroke="#222" stroke-width="1"/><line x1="213.25" y1="116.2" x2="218.75" y2="116.2" stroke="#222" stroke-width="1"/>
<line x1="131.5" y1="117.5" x2="131.5" y2="133.5" stroke="#222" stroke-width="1"/><line x1="128.75" y1="117.5" x2="134.25" y2="117.5" stroke="#222" stroke-width="1"/><line x1="128.75" y1="133.5" x2="134.25" y2="133.5" stroke="#222" stroke-width="1"/>
<line x1="60.3" y1="125.5" x2="60.3" y2="139.5" stroke="#222" stroke-width="1"/><line x1="57.55" y1="125.5" x2="63.05" y2="125.5" stroke="#222" stroke-width="1"/><line x1="57.55" y1="139.5" x2="63.05" y2="139.5" stroke="#222" stroke-width="1"/>
<line x1="92.8" y1="135.3" x2="92.8" y2="159.5" stroke="#222" stroke-width="1"/><line x1="90.05" y1="135.3" x2="95.55" y2="135.3" stroke="#222" stroke-width="1"/><line x1="90.05" y1="159.5" x2="95.55" y2="159.5" stroke="#222" stroke-width="1"/>
<line x1="125" y1="193.8" x2="125" y2="201.9" stroke="#222" stroke-width="1"/><line x1="122.25" y1="193.8" x2="127.75" y2="193.8" stroke="#222" stroke-width="1"/><line x1="122.25" y1="201.9" x2="127.75" y2="201.9" stroke="#222" stroke-width="1"/>
<line x1="157.5" y1="191.5" x2="157.5" y2="225.6" stroke="#222" stroke-width="1"/><line x1="154.75" y1="191.5" x2="160.25" y2="191.5" stroke="#222" stroke-width="1"/><line x1="154.75" y1="225.6" x2="160.25" y2="225.6" stroke="#222" stroke-width="1"/>
<line x1="190" y1="231" x2="190" y2="235.5" stroke="#222" stroke-width="1"/><line x1="187.25" y1="231" x2="192.75" y2="231" stroke="#222" stroke-width="1"/><line x1="187.25" y1="235.5" x2="192.75" y2="235.5" stroke="#222" stroke-width="1"/>
<line x1="254.6" y1="195.6" x2="254.6" y2="204.5" stroke="#222" stroke-width="1"/><line x1="251.85" y1="195.6" x2="257.35" y2="195.6" stroke="#222" stroke-width="1"/><line x1="251.85" y1="204.5" x2="257.35" y2="204.5" stroke="#222" stroke-width="1"/>
<ellipse cx="80.5" cy="70" rx="2.05" ry="2.4" fill="#fff" stroke="#111" stroke-width="1"/>
<ellipse cx="112.5" cy="75" rx="2.05" ry="2.4" fill="#fff" stroke="#111" stroke-width="1"/>
<ellipse cx="145.5" cy="83.5" rx="2.05" ry="2.4" fill="#fff" stroke="#111" stroke-width="1"/>
<ellipse cx="177.5" cy="103" rx="2.05" ry="2.4" fill="#fff" stroke="#111" stroke-width="1"/>
<ellipse cx="222.5" cy="148" rx="2.05" ry="2.4" fill="#fff" stroke="#111" stroke-width="1"/>
<ellipse cx="242.2" cy="160" rx="2.05" ry="2.4" fill="#fff" stroke="#111" stroke-width="1"/>
<ellipse cx="274.5" cy="208" rx="2.05" ry="2.4" fill="#fff" stroke="#111" stroke-width="1"/>
<rect x="70.2" y="88.6" width="4.0" height="4.8" fill="#fff" stroke="#111" stroke-width="1"/>
<rect x="102.7" y="105.6" width="4.0" height="4.8" fill="#fff" stroke="#111" stroke-width="1"/>
<rect x="135.5" y="115.6" width="4.0" height="4.8" fill="#fff" stroke="#111" stroke-width="1"/>
<rect x="167.5" y="128.1" width="4.0" height="4.8" fill="#fff" stroke="#111" stroke-width="1"/>
<rect x="200.2" y="108.6" width="4.0" height="4.8" fill="#fff" stroke="#111" stroke-width="1"/>
<rect x="208.5" y="139.2" width="4.0" height="4.8" fill="#fff" stroke="#111" stroke-width="1"/>
<rect x="252.7" y="200.6" width="4.0" height="4.8" fill="#fff" stroke="#111" stroke-width="1"/>
<ellipse cx="87.5" cy="82.3" rx="2.45" ry="2.8" fill="#000"/>
<ellipse cx="119.5" cy="101.2" rx="2.45" ry="2.8" fill="#000"/>
<ellipse cx="151.5" cy="138.5" rx="2.45" ry="2.8" fill="#000"/>
<ellipse cx="183.5" cy="173.2" rx="2.45" ry="2.8" fill="#000"/>
<ellipse cx="248.1" cy="211.4" rx="2.45" ry="2.8" fill="#000"/>
<path d="M85.0,81.4 L90.0,81.4 L87.5,86.3 Z" fill="#93209c" stroke="#3c0846" stroke-width="0.6"/>
<path d="M117.1,113.0 L122.1,113.0 L119.6,117.89999999999999 Z" fill="#93209c" stroke="#3c0846" stroke-width="0.6"/>
<path d="M149.3,119.7 L154.3,119.7 L151.8,124.6 Z" fill="#93209c" stroke="#3c0846" stroke-width="0.6"/>
<path d="M213.5,104.2 L218.5,104.2 L216,109.1 Z" fill="#93209c" stroke="#3c0846" stroke-width="0.6"/>
<path d="M245.5,203.0 L250.5,203.0 L248,207.9 Z" fill="#93209c" stroke="#3c0846" stroke-width="0.6"/>
<rect x="97.0" y="119.2" width="5.0" height="5.6" fill="#1c12b0" stroke="#0a0660" stroke-width="0.6"/>
<rect x="129.0" y="122.2" width="5.0" height="5.6" fill="#1c12b0" stroke="#0a0660" stroke-width="0.6"/>
<rect x="161.0" y="130.0" width="5.0" height="5.6" fill="#1c12b0" stroke="#0a0660" stroke-width="0.6"/>
<rect x="201.7" y="181.2" width="5.0" height="5.6" fill="#1c12b0" stroke="#0a0660" stroke-width="0.6"/>
<rect x="225.3" y="200.2" width="5.0" height="5.6" fill="#1c12b0" stroke="#0a0660" stroke-width="0.6"/>
<rect x="233.7" y="208.7" width="5.0" height="5.6" fill="#1c12b0" stroke="#0a0660" stroke-width="0.6"/>
<path d="M60.3,130.0 L62.4,134.7 L58.199999999999996,134.7 Z" fill="#fff" stroke="#111" stroke-width="0.9"/>
<path d="M92.8,144.7 L94.89999999999999,149.39999999999998 L90.7,149.39999999999998 Z" fill="#fff" stroke="#111" stroke-width="0.9"/>
<path d="M125,195.0 L127.1,199.7 L122.9,199.7 Z" fill="#fff" stroke="#111" stroke-width="0.9"/>
<path d="M157.5,205.0 L159.6,209.7 L155.4,209.7 Z" fill="#fff" stroke="#111" stroke-width="0.9"/>
<path d="M190,230.8 L192.1,235.5 L187.9,235.5 Z" fill="#fff" stroke="#111" stroke-width="0.9"/>
<path d="M254.6,198.0 L256.7,202.7 L252.5,202.7 Z" fill="#fff" stroke="#111" stroke-width="0.9"/>
<line x1="423.4" y1="71.0" x2="423.4" y2="75.5" stroke="#222" stroke-width="1"/><line x1="420.65" y1="71.0" x2="426.15" y2="71.0" stroke="#222" stroke-width="1"/><line x1="420.65" y1="75.5" x2="426.15" y2="75.5" stroke="#222" stroke-width="1"/>
<line x1="489.8" y1="71.5" x2="489.8" y2="80.5" stroke="#222" stroke-width="1"/><line x1="487.05" y1="71.5" x2="492.55" y2="71.5" stroke="#222" stroke-width="1"/><line x1="487.05" y1="80.5" x2="492.55" y2="80.5" stroke="#222" stroke-width="1"/>
<line x1="555.5" y1="115.5" x2="555.5" y2="126.5" stroke="#222" stroke-width="1"/><line x1="552.75" y1="115.5" x2="558.25" y2="115.5" stroke="#222" stroke-width="1"/><line x1="552.75" y1="126.5" x2="558.25" y2="126.5" stroke="#222" stroke-width="1"/>
<line x1="469" y1="84.5" x2="469" y2="97" stroke="#222" stroke-width="1"/><line x1="466.25" y1="84.5" x2="471.75" y2="84.5" stroke="#222" stroke-width="1"/><line x1="466.25" y1="97" x2="471.75" y2="97" stroke="#222" stroke-width="1"/>
<line x1="502.2" y1="95.5" x2="502.2" y2="106" stroke="#222" stroke-width="1"/><line x1="499.45" y1="95.5" x2="504.95" y2="95.5" stroke="#222" stroke-width="1"/><line x1="499.45" y1="106" x2="504.95" y2="106" stroke="#222" stroke-width="1"/>
<line x1="535.2" y1="127.2" x2="535.2" y2="149.5" stroke="#222" stroke-width="1"/><line x1="532.45" y1="127.2" x2="537.95" y2="127.2" stroke="#222" stroke-width="1"/><line x1="532.45" y1="149.5" x2="537.95" y2="149.5" stroke="#222" stroke-width="1"/>
<line x1="555.5" y1="132.5" x2="555.5" y2="152" stroke="#222" stroke-width="1"/><line x1="552.75" y1="132.5" x2="558.25" y2="132.5" stroke="#222" stroke-width="1"/><line x1="552.75" y1="152" x2="558.25" y2="152" stroke="#222" stroke-width="1"/>
<line x1="588.5" y1="186.8" x2="588.5" y2="251.5" stroke="#222" stroke-width="1"/><line x1="585.75" y1="186.8" x2="591.25" y2="186.8" stroke="#222" stroke-width="1"/><line x1="585.75" y1="251.5" x2="591.25" y2="251.5" stroke="#222" stroke-width="1"/>
<line x1="601.2" y1="238.5" x2="601.2" y2="246" stroke="#222" stroke-width="1"/><line x1="598.45" y1="238.5" x2="603.95" y2="238.5" stroke="#222" stroke-width="1"/><line x1="598.45" y1="246" x2="603.95" y2="246" stroke="#222" stroke-width="1"/>
<line x1="622" y1="237" x2="622" y2="247.5" stroke="#222" stroke-width="1"/><line x1="619.25" y1="237" x2="624.75" y2="237" stroke="#222" stroke-width="1"/><line x1="619.25" y1="247.5" x2="624.75" y2="247.5" stroke="#222" stroke-width="1"/>
<line x1="520" y1="147" x2="520" y2="151" stroke="#222" stroke-width="1"/><line x1="517.25" y1="151" x2="522.75" y2="151" stroke="#222" stroke-width="1"/>
<line x1="552.8" y1="179.5" x2="552.8" y2="188" stroke="#222" stroke-width="1"/><line x1="550.05" y1="179.5" x2="555.55" y2="179.5" stroke="#222" stroke-width="1"/><line x1="550.05" y1="188" x2="555.55" y2="188" stroke="#222" stroke-width="1"/>
<line x1="474.5" y1="78.5" x2="474.5" y2="86.5" stroke="#222" stroke-width="1"/><line x1="471.75" y1="78.5" x2="477.25" y2="78.5" stroke="#222" stroke-width="1"/><line x1="471.75" y1="86.5" x2="477.25" y2="86.5" stroke="#222" stroke-width="1"/>
<line x1="507.5" y1="58.5" x2="507.5" y2="106" stroke="#222" stroke-width="1"/><line x1="504.75" y1="58.5" x2="510.25" y2="58.5" stroke="#222" stroke-width="1"/><line x1="504.75" y1="106" x2="510.25" y2="106" stroke="#222" stroke-width="1"/>
<line x1="540.5" y1="87.3" x2="540.5" y2="108" stroke="#222" stroke-width="1"/><line x1="537.75" y1="87.3" x2="543.25" y2="87.3" stroke="#222" stroke-width="1"/><line x1="537.75" y1="108" x2="543.25" y2="108" stroke="#222" stroke-width="1"/>
<line x1="574" y1="99.5" x2="574" y2="113.2" stroke="#222" stroke-width="1"/><line x1="571.25" y1="99.5" x2="576.75" y2="99.5" stroke="#222" stroke-width="1"/><line x1="571.25" y1="113.2" x2="576.75" y2="113.2" stroke="#222" stroke-width="1"/>
<line x1="639.5" y1="210" x2="639.5" y2="222" stroke="#222" stroke-width="1"/><line x1="636.75" y1="210" x2="642.25" y2="210" stroke="#222" stroke-width="1"/><line x1="636.75" y1="222" x2="642.25" y2="222" stroke="#222" stroke-width="1"/>
<line x1="453.8" y1="140.2" x2="453.8" y2="145.8" stroke="#222" stroke-width="1"/><line x1="451.05" y1="140.2" x2="456.55" y2="140.2" stroke="#222" stroke-width="1"/><line x1="451.05" y1="145.8" x2="456.55" y2="145.8" stroke="#222" stroke-width="1"/>
<line x1="486.8" y1="166.7" x2="486.8" y2="172.3" stroke="#222" stroke-width="1"/><line x1="484.05" y1="166.7" x2="489.55" y2="166.7" stroke="#222" stroke-width="1"/><line x1="484.05" y1="172.3" x2="489.55" y2="172.3" stroke="#222" stroke-width="1"/>
<line x1="520" y1="186.2" x2="520" y2="192" stroke="#222" stroke-width="1"/><line x1="517.25" y1="186.2" x2="522.75" y2="186.2" stroke="#222" stroke-width="1"/><line x1="517.25" y1="192" x2="522.75" y2="192" stroke="#222" stroke-width="1"/>
<line x1="553" y1="194.6" x2="553" y2="202.2" stroke="#222" stroke-width="1"/><line x1="550.25" y1="194.6" x2="555.75" y2="194.6" stroke="#222" stroke-width="1"/><line x1="550.25" y1="202.2" x2="555.75" y2="202.2" stroke="#222" stroke-width="1"/>
<line x1="423.4" y1="82.5" x2="423.4" y2="93.2" stroke="#222" stroke-width="1"/><line x1="420.65" y1="93.2" x2="426.15" y2="93.2" stroke="#222" stroke-width="1"/>
<line x1="456.5" y1="106.8" x2="456.5" y2="137" stroke="#222" stroke-width="1"/><line x1="453.75" y1="106.8" x2="459.25" y2="106.8" stroke="#222" stroke-width="1"/><line x1="453.75" y1="137" x2="459.25" y2="137" stroke="#222" stroke-width="1"/>
<line x1="489.6" y1="202.5" x2="489.6" y2="249" stroke="#222" stroke-width="1"/><line x1="486.85" y1="202.5" x2="492.35" y2="202.5" stroke="#222" stroke-width="1"/><line x1="486.85" y1="249" x2="492.35" y2="249" stroke="#222" stroke-width="1"/>
<line x1="522.7" y1="215.5" x2="522.7" y2="263.6" stroke="#222" stroke-width="1"/><line x1="519.95" y1="215.5" x2="525.45" y2="215.5" stroke="#222" stroke-width="1"/><line x1="519.95" y1="263.6" x2="525.45" y2="263.6" stroke="#222" stroke-width="1"/>
<line x1="555.8" y1="232.9" x2="555.8" y2="251.2" stroke="#222" stroke-width="1"/><line x1="553.05" y1="232.9" x2="558.55" y2="232.9" stroke="#222" stroke-width="1"/><line x1="553.05" y1="251.2" x2="558.55" y2="251.2" stroke="#222" stroke-width="1"/>
<ellipse cx="423.4" cy="73.4" rx="2.05" ry="2.4" fill="#fff" stroke="#111" stroke-width="1"/>
<ellipse cx="489.8" cy="76" rx="2.05" ry="2.4" fill="#fff" stroke="#111" stroke-width="1"/>
<ellipse cx="555.5" cy="120.5" rx="2.05" ry="2.4" fill="#fff" stroke="#111" stroke-width="1"/>
<ellipse cx="589" cy="143.5" rx="2.05" ry="2.4" fill="#fff" stroke="#111" stroke-width="1"/>
<ellipse cx="622" cy="224" rx="2.05" ry="2.4" fill="#fff" stroke="#111" stroke-width="1"/>
<ellipse cx="642.8" cy="232.8" rx="2.05" ry="2.4" fill="#fff" stroke="#111" stroke-width="1"/>
<rect x="454.5" y="76.6" width="4.0" height="4.8" fill="#fff" stroke="#111" stroke-width="1"/>
<rect x="467.0" y="88.1" width="4.0" height="4.8" fill="#fff" stroke="#111" stroke-width="1"/>
<rect x="500.2" y="98.6" width="4.0" height="4.8" fill="#fff" stroke="#111" stroke-width="1"/>
<rect x="521.0" y="83.6" width="4.0" height="4.8" fill="#fff" stroke="#111" stroke-width="1"/>
<rect x="533.2" y="136.6" width="4.0" height="4.8" fill="#fff" stroke="#111" stroke-width="1"/>
<rect x="553.5" y="140.1" width="4.0" height="4.8" fill="#fff" stroke="#111" stroke-width="1"/>
<rect x="586.5" y="216.6" width="4.0" height="4.8" fill="#fff" stroke="#111" stroke-width="1"/>
<rect x="599.2" y="239.79999999999998" width="4.0" height="4.8" fill="#fff" stroke="#111" stroke-width="1"/>
<rect x="620.0" y="240.1" width="4.0" height="4.8" fill="#fff" stroke="#111" stroke-width="1"/>
<ellipse cx="453.5" cy="90.5" rx="2.45" ry="2.8" fill="#000"/>
<ellipse cx="487" cy="103" rx="2.45" ry="2.8" fill="#000"/>
<ellipse cx="520" cy="147" rx="2.45" ry="2.8" fill="#000"/>
<ellipse cx="552.8" cy="183.5" rx="2.45" ry="2.8" fill="#000"/>
<ellipse cx="619" cy="236.5" rx="2.45" ry="2.8" fill="#000"/>
<path d="M472.0,80.2 L477.0,80.2 L474.5,85.1 Z" fill="#93209c" stroke="#3c0846" stroke-width="0.6"/>
<path d="M505.0,80.2 L510.0,80.2 L507.5,85.1 Z" fill="#93209c" stroke="#3c0846" stroke-width="0.6"/>
<path d="M538.0,95.7 L543.0,95.7 L540.5,100.6 Z" fill="#93209c" stroke="#3c0846" stroke-width="0.6"/>
<path d="M571.5,103.9 L576.5,103.9 L574,108.8 Z" fill="#93209c" stroke="#3c0846" stroke-width="0.6"/>
<path d="M637.0,213.7 L642.0,213.7 L639.5,218.6 Z" fill="#93209c" stroke="#3c0846" stroke-width="0.6"/>
<path d="M669.5,224.2 L674.5,224.2 L672,229.1 Z" fill="#93209c" stroke="#3c0846" stroke-width="0.6"/>
<rect x="451.3" y="140.2" width="5.0" height="5.6" fill="#1c12b0" stroke="#0a0660" stroke-width="0.6"/>
<rect x="484.3" y="166.7" width="5.0" height="5.6" fill="#1c12b0" stroke="#0a0660" stroke-width="0.6"/>
<rect x="517.5" y="186.29999999999998" width="5.0" height="5.6" fill="#1c12b0" stroke="#0a0660" stroke-width="0.6"/>
<rect x="550.5" y="195.5" width="5.0" height="5.6" fill="#1c12b0" stroke="#0a0660" stroke-width="0.6"/>
<rect x="617.0" y="195.7" width="5.0" height="5.6" fill="#1c12b0" stroke="#0a0660" stroke-width="0.6"/>
<path d="M423.4,80.0 L425.5,84.7 L421.29999999999995,84.7 Z" fill="#fff" stroke="#111" stroke-width="0.9"/>
<path d="M456.5,119.0 L458.6,123.7 L454.4,123.7 Z" fill="#fff" stroke="#111" stroke-width="0.9"/>
<path d="M489.6,223.0 L491.70000000000005,227.7 L487.5,227.7 Z" fill="#fff" stroke="#111" stroke-width="0.9"/>
<path d="M522.7,237.0 L524.8000000000001,241.7 L520.6,241.7 Z" fill="#fff" stroke="#111" stroke-width="0.9"/>
<path d="M555.8,239.5 L557.9,244.2 L553.6999999999999,244.2 Z" fill="#fff" stroke="#111" stroke-width="0.9"/>
<ellipse cx="63.3" cy="334.7" rx="2.45" ry="2.8" fill="#000"/>
<text x="75.6" y="338.0" font-size="9.3" style="stroke-width:0.1px">CYP1A1</text>
<path d="M60.8,344.59999999999997 L65.8,344.59999999999997 L63.3,349.5 Z" fill="#93209c" stroke="#3c0846" stroke-width="0.6"/>
<text x="75.6" y="350.2" font-size="9.3" style="stroke-width:0.1px">CYP1A2</text>
<rect x="60.8" y="356.2" width="5.0" height="5.6" fill="#1c12b0" stroke="#0a0660" stroke-width="0.6"/>
<text x="75.6" y="362.3" font-size="9.3" style="stroke-width:0.1px">CYP1B1</text>
<path d="M63.3,368.5 L65.39999999999999,373.2 L61.199999999999996,373.2 Z" fill="#fff" stroke="#111" stroke-width="0.9"/>
<text x="75.6" y="374.3" font-size="9.3" style="stroke-width:0.1px">CYP2C19</text>
<rect x="61.3" y="380.8" width="4.0" height="4.8" fill="#fff" stroke="#111" stroke-width="1"/>
<text x="75.6" y="386.5" font-size="9.3" style="stroke-width:0.1px">CYP2D6</text>
<ellipse cx="63.3" cy="395.3" rx="2.05" ry="2.4" fill="#fff" stroke="#111" stroke-width="1"/>
<text x="75.6" y="398.6" font-size="9.3" style="stroke-width:0.1px">CYP3A4</text>
<ellipse cx="413.2" cy="334.7" rx="2.45" ry="2.8" fill="#000"/>
<text x="425.9" y="338.0" font-size="9.3" style="stroke-width:0.1px">CYP1A1</text>
<path d="M410.7,344.59999999999997 L415.7,344.59999999999997 L413.2,349.5 Z" fill="#93209c" stroke="#3c0846" stroke-width="0.6"/>
<text x="425.9" y="350.2" font-size="9.3" style="stroke-width:0.1px">CYP1A2</text>
<rect x="410.7" y="356.2" width="5.0" height="5.6" fill="#1c12b0" stroke="#0a0660" stroke-width="0.6"/>
<text x="425.9" y="362.3" font-size="9.3" style="stroke-width:0.1px">CYP1B1</text>
<path d="M413.2,368.5 L415.3,373.2 L411.09999999999997,373.2 Z" fill="#fff" stroke="#111" stroke-width="0.9"/>
<text x="425.9" y="374.3" font-size="9.3" style="stroke-width:0.1px">CYP2C19</text>
<rect x="411.2" y="380.8" width="4.0" height="4.8" fill="#fff" stroke="#111" stroke-width="1"/>
<text x="425.9" y="386.5" font-size="9.3" style="stroke-width:0.1px">CYP2D6</text>
<ellipse cx="413.2" cy="395.3" rx="2.05" ry="2.4" fill="#fff" stroke="#111" stroke-width="1"/>
<text x="425.9" y="398.6" font-size="9.3" style="stroke-width:0.1px">CYP3A4</text>
</svg></body></html>
